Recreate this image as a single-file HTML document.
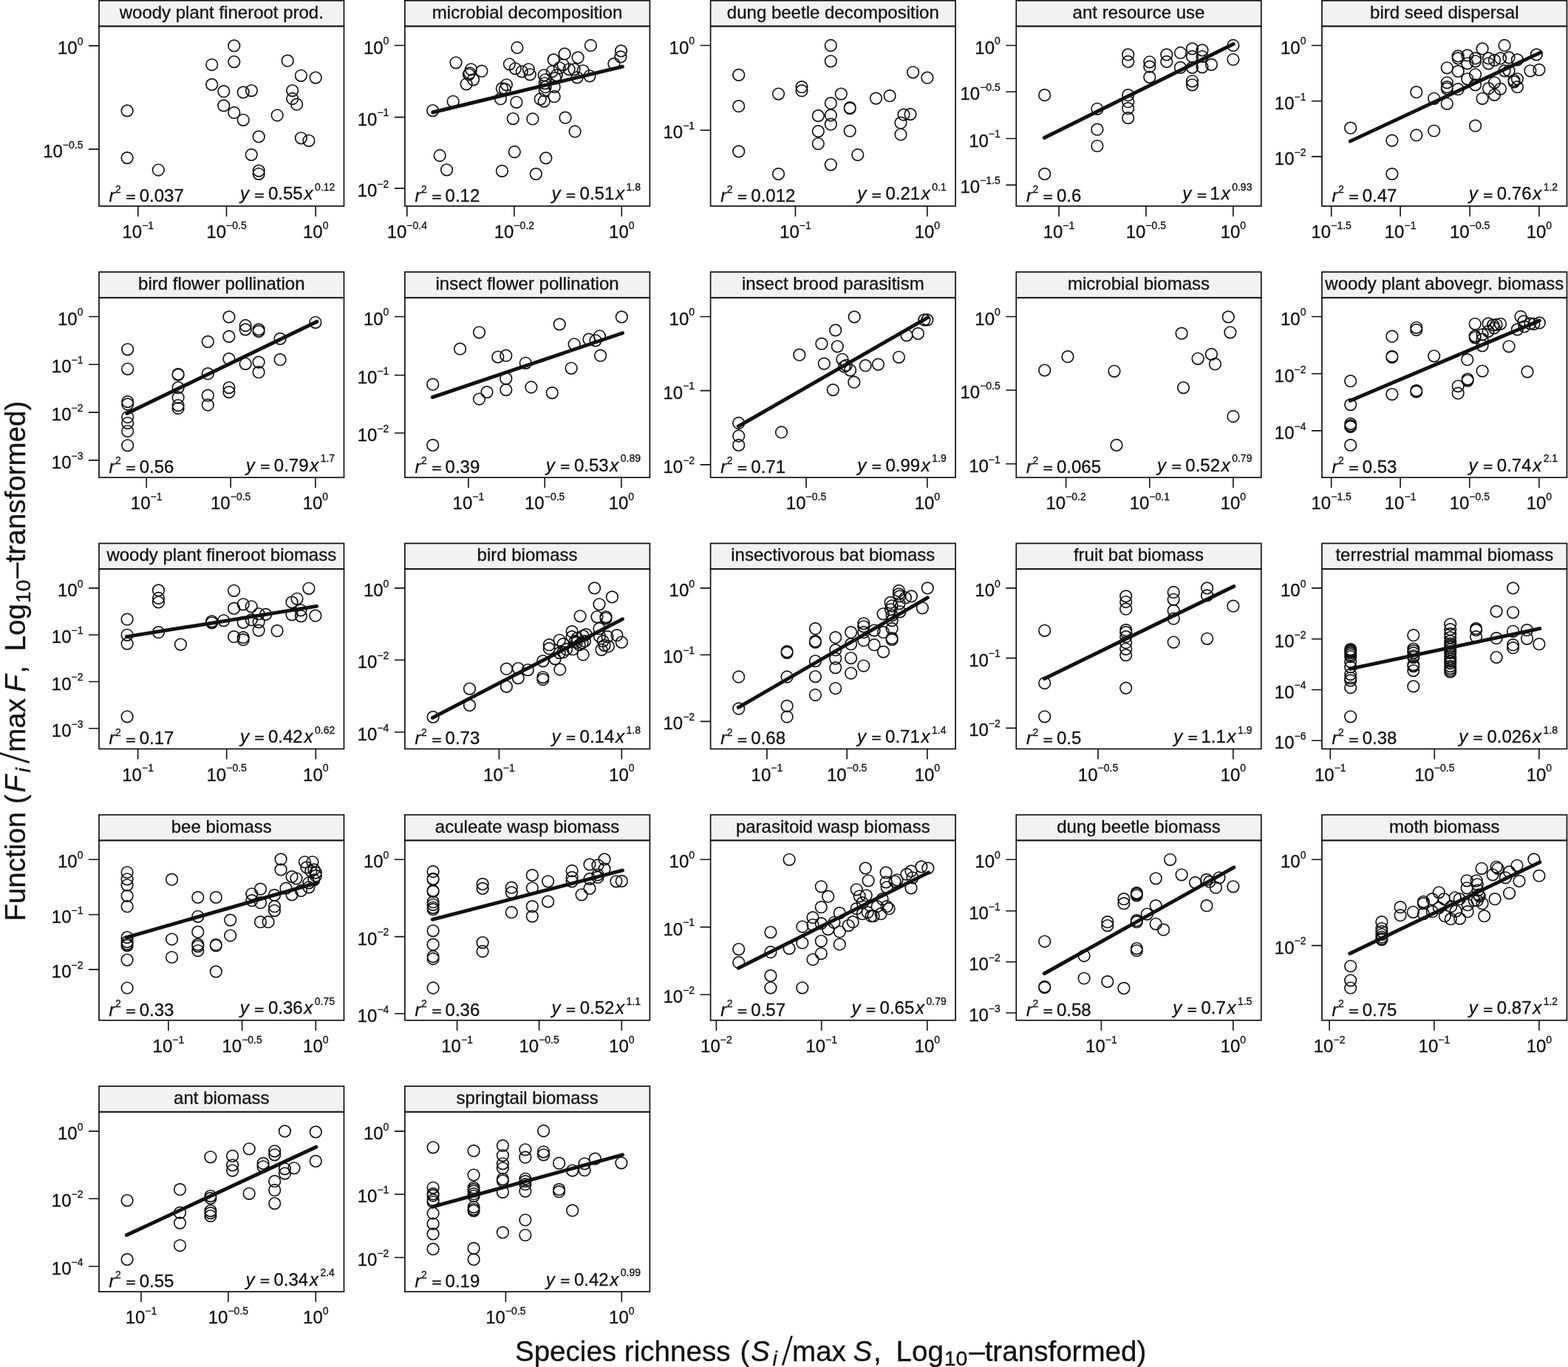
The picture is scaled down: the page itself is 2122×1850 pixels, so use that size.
<!DOCTYPE html><html><head><meta charset="utf-8"><title>Species richness vs function</title>
<style>html,body{margin:0;padding:0;background:#fff;width:2122px;height:1850px;overflow:hidden}svg{display:block}text{font-family:"Liberation Sans",Arial,Helvetica,sans-serif;fill:#111;stroke:#111;stroke-width:0.3px}</style></head><body>
<svg width="2122" height="1850" viewBox="0 0 2122 1850">
<rect width="2122" height="1850" fill="#fff"/>
<g>
<rect x="134" y="0.8" width="331.5" height="34.7" fill="#f2f2f2" stroke="#111" stroke-width="1.7"/>
<text x="299.8" y="24.7" font-size="24" text-anchor="middle">woody plant fineroot prod.</text>
<rect x="134" y="35.5" width="331.5" height="243.4" fill="none" stroke="#111" stroke-width="1.7"/>
<text x="112.5" y="72.9" font-size="24" text-anchor="end">10<tspan font-size="14" dy="-12.2">0</tspan></text>
<text x="112.5" y="212.9" font-size="24" text-anchor="end">10<tspan font-size="14" dy="-12.2">−0.5</tspan></text>
<text x="186.8" y="321.9" font-size="24" text-anchor="middle">10<tspan font-size="14" dy="-12.2">−1</tspan></text>
<text x="306.5" y="321.9" font-size="24" text-anchor="middle">10<tspan font-size="14" dy="-12.2">−0.5</tspan></text>
<text x="427.2" y="321.9" font-size="24" text-anchor="middle">10<tspan font-size="14" dy="-12.2">0</tspan></text>
<path d="M120 61.9H134M120 201.9H134M186.8 278.9V292.9M306.5 278.9V292.9M427.2 278.9V292.9" stroke="#111" stroke-width="1.6" fill="none"/>
<path d="M316.8 61.9m-7.8 0a7.8 7.8 0 1 0 15.6 0a7.8 7.8 0 1 0 -15.6 0M316.8 83.6m-7.8 0a7.8 7.8 0 1 0 15.6 0a7.8 7.8 0 1 0 -15.6 0M286.7 87.5m-7.8 0a7.8 7.8 0 1 0 15.6 0a7.8 7.8 0 1 0 -15.6 0M389.2 82.2m-7.8 0a7.8 7.8 0 1 0 15.6 0a7.8 7.8 0 1 0 -15.6 0M407.4 102.3m-7.8 0a7.8 7.8 0 1 0 15.6 0a7.8 7.8 0 1 0 -15.6 0M427.2 105.1m-7.8 0a7.8 7.8 0 1 0 15.6 0a7.8 7.8 0 1 0 -15.6 0M286.7 114.4m-7.8 0a7.8 7.8 0 1 0 15.6 0a7.8 7.8 0 1 0 -15.6 0M302.8 123.7m-7.8 0a7.8 7.8 0 1 0 15.6 0a7.8 7.8 0 1 0 -15.6 0M329.2 124.9m-7.8 0a7.8 7.8 0 1 0 15.6 0a7.8 7.8 0 1 0 -15.6 0M340.4 122.6m-7.8 0a7.8 7.8 0 1 0 15.6 0a7.8 7.8 0 1 0 -15.6 0M395.7 122.6m-7.8 0a7.8 7.8 0 1 0 15.6 0a7.8 7.8 0 1 0 -15.6 0M395.7 133.5m-7.8 0a7.8 7.8 0 1 0 15.6 0a7.8 7.8 0 1 0 -15.6 0M401.6 141.2m-7.8 0a7.8 7.8 0 1 0 15.6 0a7.8 7.8 0 1 0 -15.6 0M302.8 142.9m-7.8 0a7.8 7.8 0 1 0 15.6 0a7.8 7.8 0 1 0 -15.6 0M316.8 152.5m-7.8 0a7.8 7.8 0 1 0 15.6 0a7.8 7.8 0 1 0 -15.6 0M329.2 162.3m-7.8 0a7.8 7.8 0 1 0 15.6 0a7.8 7.8 0 1 0 -15.6 0M375.2 156m-7.8 0a7.8 7.8 0 1 0 15.6 0a7.8 7.8 0 1 0 -15.6 0M172.1 149.9m-7.8 0a7.8 7.8 0 1 0 15.6 0a7.8 7.8 0 1 0 -15.6 0M350.2 184.9m-7.8 0a7.8 7.8 0 1 0 15.6 0a7.8 7.8 0 1 0 -15.6 0M407.4 186.8m-7.8 0a7.8 7.8 0 1 0 15.6 0a7.8 7.8 0 1 0 -15.6 0M417.9 190.3m-7.8 0a7.8 7.8 0 1 0 15.6 0a7.8 7.8 0 1 0 -15.6 0M172.1 213.6m-7.8 0a7.8 7.8 0 1 0 15.6 0a7.8 7.8 0 1 0 -15.6 0M214.3 230m-7.8 0a7.8 7.8 0 1 0 15.6 0a7.8 7.8 0 1 0 -15.6 0M340.2 209.4m-7.8 0a7.8 7.8 0 1 0 15.6 0a7.8 7.8 0 1 0 -15.6 0M350.2 231.1m-7.8 0a7.8 7.8 0 1 0 15.6 0a7.8 7.8 0 1 0 -15.6 0M350.2 235.3m-7.8 0a7.8 7.8 0 1 0 15.6 0a7.8 7.8 0 1 0 -15.6 0" stroke="#111" stroke-width="1.65" fill="none"/>
<text x="147.6" y="272.8" font-size="24" font-style="italic">r</text>
<text x="156.1" y="260.9" font-size="14">2</text>
<g transform="translate(177 266.6) scale(0.93 0.7) translate(-7 7.9)"><text x="0" y="0" font-size="24" style="stroke:#111;stroke-width:0.8">=</text></g>
<text x="188.7" y="272.8" font-size="24">0.037</text>
<text x="324.9" y="270.3" font-size="24" font-style="italic">y</text>
<g transform="translate(350.9 264.1) scale(0.93 0.7) translate(-7 7.9)"><text x="0" y="0" font-size="24" style="stroke:#111;stroke-width:0.8">=</text></g>
<text x="363" y="270.3" font-size="24">0.55</text>
<text x="411.5" y="270.3" font-size="24" font-style="italic">x</text>
<text x="426" y="258.1" font-size="14">0.12</text>
</g>
<g>
<rect x="547.9" y="0.8" width="331.5" height="34.7" fill="#f2f2f2" stroke="#111" stroke-width="1.7"/>
<text x="713.6" y="24.7" font-size="24" text-anchor="middle">microbial decomposition</text>
<rect x="547.9" y="35.5" width="331.5" height="243.4" fill="none" stroke="#111" stroke-width="1.7"/>
<text x="526.4" y="72.5" font-size="24" text-anchor="end">10<tspan font-size="14" dy="-12.2">0</tspan></text>
<text x="526.4" y="169.6" font-size="24" text-anchor="end">10<tspan font-size="14" dy="-12.2">−1</tspan></text>
<text x="526.4" y="265.9" font-size="24" text-anchor="end">10<tspan font-size="14" dy="-12.2">−2</tspan></text>
<text x="550.8" y="321.9" font-size="24" text-anchor="middle">10<tspan font-size="14" dy="-12.2">−0.4</tspan></text>
<text x="695.9" y="321.9" font-size="24" text-anchor="middle">10<tspan font-size="14" dy="-12.2">−0.2</tspan></text>
<text x="841.3" y="321.9" font-size="24" text-anchor="middle">10<tspan font-size="14" dy="-12.2">0</tspan></text>
<path d="M533.9 61.5H547.9M533.9 158.6H547.9M533.9 254.9H547.9M550.8 278.9V292.9M695.9 278.9V292.9M841.3 278.9V292.9" stroke="#111" stroke-width="1.6" fill="none"/>
<path d="M585.7 149.6m-7.8 0a7.8 7.8 0 1 0 15.6 0a7.8 7.8 0 1 0 -15.6 0M613.2 137.3m-7.8 0a7.8 7.8 0 1 0 15.6 0a7.8 7.8 0 1 0 -15.6 0M617 84.8m-7.8 0a7.8 7.8 0 1 0 15.6 0a7.8 7.8 0 1 0 -15.6 0M637.5 93.8m-7.8 0a7.8 7.8 0 1 0 15.6 0a7.8 7.8 0 1 0 -15.6 0M635.5 98.8m-7.8 0a7.8 7.8 0 1 0 15.6 0a7.8 7.8 0 1 0 -15.6 0M634.5 100.8m-7.8 0a7.8 7.8 0 1 0 15.6 0a7.8 7.8 0 1 0 -15.6 0M640.5 107.8m-7.8 0a7.8 7.8 0 1 0 15.6 0a7.8 7.8 0 1 0 -15.6 0M631.1 113.8m-7.8 0a7.8 7.8 0 1 0 15.6 0a7.8 7.8 0 1 0 -15.6 0M651.9 96.2m-7.8 0a7.8 7.8 0 1 0 15.6 0a7.8 7.8 0 1 0 -15.6 0M699.9 64.5m-7.8 0a7.8 7.8 0 1 0 15.6 0a7.8 7.8 0 1 0 -15.6 0M689.4 86.8m-7.8 0a7.8 7.8 0 1 0 15.6 0a7.8 7.8 0 1 0 -15.6 0M697.3 92.8m-7.8 0a7.8 7.8 0 1 0 15.6 0a7.8 7.8 0 1 0 -15.6 0M706.3 96.8m-7.8 0a7.8 7.8 0 1 0 15.6 0a7.8 7.8 0 1 0 -15.6 0M715.3 93.8m-7.8 0a7.8 7.8 0 1 0 15.6 0a7.8 7.8 0 1 0 -15.6 0M717.3 100.8m-7.8 0a7.8 7.8 0 1 0 15.6 0a7.8 7.8 0 1 0 -15.6 0M685.4 114.8m-7.8 0a7.8 7.8 0 1 0 15.6 0a7.8 7.8 0 1 0 -15.6 0M679.4 119.7m-7.8 0a7.8 7.8 0 1 0 15.6 0a7.8 7.8 0 1 0 -15.6 0M683.4 120.7m-7.8 0a7.8 7.8 0 1 0 15.6 0a7.8 7.8 0 1 0 -15.6 0M677.4 133.7m-7.8 0a7.8 7.8 0 1 0 15.6 0a7.8 7.8 0 1 0 -15.6 0M698.9 138.3m-7.8 0a7.8 7.8 0 1 0 15.6 0a7.8 7.8 0 1 0 -15.6 0M694.3 160.6m-7.8 0a7.8 7.8 0 1 0 15.6 0a7.8 7.8 0 1 0 -15.6 0M720.9 161m-7.8 0a7.8 7.8 0 1 0 15.6 0a7.8 7.8 0 1 0 -15.6 0M736.2 101.8m-7.8 0a7.8 7.8 0 1 0 15.6 0a7.8 7.8 0 1 0 -15.6 0M738.2 107.8m-7.8 0a7.8 7.8 0 1 0 15.6 0a7.8 7.8 0 1 0 -15.6 0M737.2 112.8m-7.8 0a7.8 7.8 0 1 0 15.6 0a7.8 7.8 0 1 0 -15.6 0M738.2 117.7m-7.8 0a7.8 7.8 0 1 0 15.6 0a7.8 7.8 0 1 0 -15.6 0M737.2 122.7m-7.8 0a7.8 7.8 0 1 0 15.6 0a7.8 7.8 0 1 0 -15.6 0M731.2 134.1m-7.8 0a7.8 7.8 0 1 0 15.6 0a7.8 7.8 0 1 0 -15.6 0M736.2 137.1m-7.8 0a7.8 7.8 0 1 0 15.6 0a7.8 7.8 0 1 0 -15.6 0M749.2 80.9m-7.8 0a7.8 7.8 0 1 0 15.6 0a7.8 7.8 0 1 0 -15.6 0M747.2 96.8m-7.8 0a7.8 7.8 0 1 0 15.6 0a7.8 7.8 0 1 0 -15.6 0M751.2 105.8m-7.8 0a7.8 7.8 0 1 0 15.6 0a7.8 7.8 0 1 0 -15.6 0M750.2 117.7m-7.8 0a7.8 7.8 0 1 0 15.6 0a7.8 7.8 0 1 0 -15.6 0M750.2 130.7m-7.8 0a7.8 7.8 0 1 0 15.6 0a7.8 7.8 0 1 0 -15.6 0M764.1 72.9m-7.8 0a7.8 7.8 0 1 0 15.6 0a7.8 7.8 0 1 0 -15.6 0M762.1 87.8m-7.8 0a7.8 7.8 0 1 0 15.6 0a7.8 7.8 0 1 0 -15.6 0M757.2 91.8m-7.8 0a7.8 7.8 0 1 0 15.6 0a7.8 7.8 0 1 0 -15.6 0M753.2 101.8m-7.8 0a7.8 7.8 0 1 0 15.6 0a7.8 7.8 0 1 0 -15.6 0M770.1 93.8m-7.8 0a7.8 7.8 0 1 0 15.6 0a7.8 7.8 0 1 0 -15.6 0M777.1 93.8m-7.8 0a7.8 7.8 0 1 0 15.6 0a7.8 7.8 0 1 0 -15.6 0M782.1 77.9m-7.8 0a7.8 7.8 0 1 0 15.6 0a7.8 7.8 0 1 0 -15.6 0M781.1 104.8m-7.8 0a7.8 7.8 0 1 0 15.6 0a7.8 7.8 0 1 0 -15.6 0M789.1 95.8m-7.8 0a7.8 7.8 0 1 0 15.6 0a7.8 7.8 0 1 0 -15.6 0M798 102.8m-7.8 0a7.8 7.8 0 1 0 15.6 0a7.8 7.8 0 1 0 -15.6 0M799.4 61.5m-7.8 0a7.8 7.8 0 1 0 15.6 0a7.8 7.8 0 1 0 -15.6 0M765.1 159.2m-7.8 0a7.8 7.8 0 1 0 15.6 0a7.8 7.8 0 1 0 -15.6 0M778.1 178m-7.8 0a7.8 7.8 0 1 0 15.6 0a7.8 7.8 0 1 0 -15.6 0M830.9 86.4m-7.8 0a7.8 7.8 0 1 0 15.6 0a7.8 7.8 0 1 0 -15.6 0M840.5 68.9m-7.8 0a7.8 7.8 0 1 0 15.6 0a7.8 7.8 0 1 0 -15.6 0M839.9 76.9m-7.8 0a7.8 7.8 0 1 0 15.6 0a7.8 7.8 0 1 0 -15.6 0M595.2 210.5m-7.8 0a7.8 7.8 0 1 0 15.6 0a7.8 7.8 0 1 0 -15.6 0M604.6 229.8m-7.8 0a7.8 7.8 0 1 0 15.6 0a7.8 7.8 0 1 0 -15.6 0M679.4 231.4m-7.8 0a7.8 7.8 0 1 0 15.6 0a7.8 7.8 0 1 0 -15.6 0M696.3 205.5m-7.8 0a7.8 7.8 0 1 0 15.6 0a7.8 7.8 0 1 0 -15.6 0M725.3 235.4m-7.8 0a7.8 7.8 0 1 0 15.6 0a7.8 7.8 0 1 0 -15.6 0M738.8 213.9m-7.8 0a7.8 7.8 0 1 0 15.6 0a7.8 7.8 0 1 0 -15.6 0" stroke="#111" stroke-width="1.65" fill="none"/>
<line x1="585.7" y1="152" x2="842.5" y2="90.2" stroke="#111" stroke-width="4.9" stroke-linecap="round"/>
<text x="561.5" y="272.8" font-size="24" font-style="italic">r</text>
<text x="570" y="260.9" font-size="14">2</text>
<g transform="translate(590.9 266.6) scale(0.93 0.7) translate(-7 7.9)"><text x="0" y="0" font-size="24" style="stroke:#111;stroke-width:0.8">=</text></g>
<text x="602.6" y="272.8" font-size="24">0.12</text>
<text x="746.5" y="270.3" font-size="24" font-style="italic">y</text>
<g transform="translate(772.5 264.1) scale(0.93 0.7) translate(-7 7.9)"><text x="0" y="0" font-size="24" style="stroke:#111;stroke-width:0.8">=</text></g>
<text x="784.6" y="270.3" font-size="24">0.51</text>
<text x="833" y="270.3" font-size="24" font-style="italic">x</text>
<text x="847.5" y="258.1" font-size="14">1.8</text>
</g>
<g>
<rect x="961.6" y="0.8" width="331.5" height="34.7" fill="#f2f2f2" stroke="#111" stroke-width="1.7"/>
<text x="1127.3" y="24.7" font-size="24" text-anchor="middle">dung beetle decomposition</text>
<rect x="961.6" y="35.5" width="331.5" height="243.4" fill="none" stroke="#111" stroke-width="1.7"/>
<text x="940.1" y="72.5" font-size="24" text-anchor="end">10<tspan font-size="14" dy="-12.2">0</tspan></text>
<text x="940.1" y="187.2" font-size="24" text-anchor="end">10<tspan font-size="14" dy="-12.2">−1</tspan></text>
<text x="1076.4" y="321.9" font-size="24" text-anchor="middle">10<tspan font-size="14" dy="-12.2">−1</tspan></text>
<text x="1254.9" y="321.9" font-size="24" text-anchor="middle">10<tspan font-size="14" dy="-12.2">0</tspan></text>
<path d="M947.6 61.5H961.6M947.6 176.2H961.6M1076.4 278.9V292.9M1254.9 278.9V292.9" stroke="#111" stroke-width="1.6" fill="none"/>
<path d="M999.7 101.4m-7.8 0a7.8 7.8 0 1 0 15.6 0a7.8 7.8 0 1 0 -15.6 0M999.7 143.7m-7.8 0a7.8 7.8 0 1 0 15.6 0a7.8 7.8 0 1 0 -15.6 0M999.7 204.9m-7.8 0a7.8 7.8 0 1 0 15.6 0a7.8 7.8 0 1 0 -15.6 0M1053.5 127.1m-7.8 0a7.8 7.8 0 1 0 15.6 0a7.8 7.8 0 1 0 -15.6 0M1053.5 235.4m-7.8 0a7.8 7.8 0 1 0 15.6 0a7.8 7.8 0 1 0 -15.6 0M1085 117.7m-7.8 0a7.8 7.8 0 1 0 15.6 0a7.8 7.8 0 1 0 -15.6 0M1085 122.7m-7.8 0a7.8 7.8 0 1 0 15.6 0a7.8 7.8 0 1 0 -15.6 0M1124.3 61.5m-7.8 0a7.8 7.8 0 1 0 15.6 0a7.8 7.8 0 1 0 -15.6 0M1124.3 82.8m-7.8 0a7.8 7.8 0 1 0 15.6 0a7.8 7.8 0 1 0 -15.6 0M1124.3 139.7m-7.8 0a7.8 7.8 0 1 0 15.6 0a7.8 7.8 0 1 0 -15.6 0M1124.3 156m-7.8 0a7.8 7.8 0 1 0 15.6 0a7.8 7.8 0 1 0 -15.6 0M1124.3 168.2m-7.8 0a7.8 7.8 0 1 0 15.6 0a7.8 7.8 0 1 0 -15.6 0M1124.3 222.8m-7.8 0a7.8 7.8 0 1 0 15.6 0a7.8 7.8 0 1 0 -15.6 0M1107.3 156.6m-7.8 0a7.8 7.8 0 1 0 15.6 0a7.8 7.8 0 1 0 -15.6 0M1107.3 177.6m-7.8 0a7.8 7.8 0 1 0 15.6 0a7.8 7.8 0 1 0 -15.6 0M1107.3 194.5m-7.8 0a7.8 7.8 0 1 0 15.6 0a7.8 7.8 0 1 0 -15.6 0M1138.3 127.1m-7.8 0a7.8 7.8 0 1 0 15.6 0a7.8 7.8 0 1 0 -15.6 0M1150.2 145.7m-7.8 0a7.8 7.8 0 1 0 15.6 0a7.8 7.8 0 1 0 -15.6 0M1150.2 146.7m-7.8 0a7.8 7.8 0 1 0 15.6 0a7.8 7.8 0 1 0 -15.6 0M1150.2 177.2m-7.8 0a7.8 7.8 0 1 0 15.6 0a7.8 7.8 0 1 0 -15.6 0M1160.8 209.5m-7.8 0a7.8 7.8 0 1 0 15.6 0a7.8 7.8 0 1 0 -15.6 0M1185.5 133.1m-7.8 0a7.8 7.8 0 1 0 15.6 0a7.8 7.8 0 1 0 -15.6 0M1204.1 129.7m-7.8 0a7.8 7.8 0 1 0 15.6 0a7.8 7.8 0 1 0 -15.6 0M1235.6 97.8m-7.8 0a7.8 7.8 0 1 0 15.6 0a7.8 7.8 0 1 0 -15.6 0M1254.9 105.2m-7.8 0a7.8 7.8 0 1 0 15.6 0a7.8 7.8 0 1 0 -15.6 0M1223 155.2m-7.8 0a7.8 7.8 0 1 0 15.6 0a7.8 7.8 0 1 0 -15.6 0M1232 154.6m-7.8 0a7.8 7.8 0 1 0 15.6 0a7.8 7.8 0 1 0 -15.6 0M1219 166.2m-7.8 0a7.8 7.8 0 1 0 15.6 0a7.8 7.8 0 1 0 -15.6 0M1219 182m-7.8 0a7.8 7.8 0 1 0 15.6 0a7.8 7.8 0 1 0 -15.6 0" stroke="#111" stroke-width="1.65" fill="none"/>
<text x="975.2" y="272.8" font-size="24" font-style="italic">r</text>
<text x="983.7" y="260.9" font-size="14">2</text>
<g transform="translate(1004.6 266.6) scale(0.93 0.7) translate(-7 7.9)"><text x="0" y="0" font-size="24" style="stroke:#111;stroke-width:0.8">=</text></g>
<text x="1016.3" y="272.8" font-size="24">0.012</text>
<text x="1160.2" y="270.3" font-size="24" font-style="italic">y</text>
<g transform="translate(1186.3 264.1) scale(0.93 0.7) translate(-7 7.9)"><text x="0" y="0" font-size="24" style="stroke:#111;stroke-width:0.8">=</text></g>
<text x="1198.4" y="270.3" font-size="24">0.21</text>
<text x="1246.8" y="270.3" font-size="24" font-style="italic">x</text>
<text x="1261.3" y="258.1" font-size="14">0.1</text>
</g>
<g>
<rect x="1375.3" y="0.8" width="331.5" height="34.7" fill="#f2f2f2" stroke="#111" stroke-width="1.7"/>
<text x="1541" y="24.7" font-size="24" text-anchor="middle">ant resource use</text>
<rect x="1375.3" y="35.5" width="331.5" height="243.4" fill="none" stroke="#111" stroke-width="1.7"/>
<text x="1353.8" y="72.5" font-size="24" text-anchor="end">10<tspan font-size="14" dy="-12.2">0</tspan></text>
<text x="1353.8" y="135.3" font-size="24" text-anchor="end">10<tspan font-size="14" dy="-12.2">−0.5</tspan></text>
<text x="1353.8" y="198.5" font-size="24" text-anchor="end">10<tspan font-size="14" dy="-12.2">−1</tspan></text>
<text x="1353.8" y="261.4" font-size="24" text-anchor="end">10<tspan font-size="14" dy="-12.2">−1.5</tspan></text>
<text x="1433" y="321.9" font-size="24" text-anchor="middle">10<tspan font-size="14" dy="-12.2">−1</tspan></text>
<text x="1550.9" y="321.9" font-size="24" text-anchor="middle">10<tspan font-size="14" dy="-12.2">−0.5</tspan></text>
<text x="1668.9" y="321.9" font-size="24" text-anchor="middle">10<tspan font-size="14" dy="-12.2">0</tspan></text>
<path d="M1361.3 61.5H1375.3M1361.3 124.3H1375.3M1361.3 187.5H1375.3M1361.3 250.4H1375.3M1433 278.9V292.9M1550.9 278.9V292.9M1668.9 278.9V292.9" stroke="#111" stroke-width="1.6" fill="none"/>
<path d="M1413.7 128.7m-7.8 0a7.8 7.8 0 1 0 15.6 0a7.8 7.8 0 1 0 -15.6 0M1413.7 235.4m-7.8 0a7.8 7.8 0 1 0 15.6 0a7.8 7.8 0 1 0 -15.6 0M1484.9 147.3m-7.8 0a7.8 7.8 0 1 0 15.6 0a7.8 7.8 0 1 0 -15.6 0M1484.9 175.2m-7.8 0a7.8 7.8 0 1 0 15.6 0a7.8 7.8 0 1 0 -15.6 0M1484.9 197.5m-7.8 0a7.8 7.8 0 1 0 15.6 0a7.8 7.8 0 1 0 -15.6 0M1526.7 73.9m-7.8 0a7.8 7.8 0 1 0 15.6 0a7.8 7.8 0 1 0 -15.6 0M1526.7 83.4m-7.8 0a7.8 7.8 0 1 0 15.6 0a7.8 7.8 0 1 0 -15.6 0M1526.7 128.7m-7.8 0a7.8 7.8 0 1 0 15.6 0a7.8 7.8 0 1 0 -15.6 0M1526.7 137.7m-7.8 0a7.8 7.8 0 1 0 15.6 0a7.8 7.8 0 1 0 -15.6 0M1526.7 146.7m-7.8 0a7.8 7.8 0 1 0 15.6 0a7.8 7.8 0 1 0 -15.6 0M1526.7 159.6m-7.8 0a7.8 7.8 0 1 0 15.6 0a7.8 7.8 0 1 0 -15.6 0M1555.8 83.8m-7.8 0a7.8 7.8 0 1 0 15.6 0a7.8 7.8 0 1 0 -15.6 0M1555.8 90.2m-7.8 0a7.8 7.8 0 1 0 15.6 0a7.8 7.8 0 1 0 -15.6 0M1555.8 104.4m-7.8 0a7.8 7.8 0 1 0 15.6 0a7.8 7.8 0 1 0 -15.6 0M1578.8 73.9m-7.8 0a7.8 7.8 0 1 0 15.6 0a7.8 7.8 0 1 0 -15.6 0M1578.8 83.4m-7.8 0a7.8 7.8 0 1 0 15.6 0a7.8 7.8 0 1 0 -15.6 0M1597.5 71.5m-7.8 0a7.8 7.8 0 1 0 15.6 0a7.8 7.8 0 1 0 -15.6 0M1597.5 91.4m-7.8 0a7.8 7.8 0 1 0 15.6 0a7.8 7.8 0 1 0 -15.6 0M1613.5 65.9m-7.8 0a7.8 7.8 0 1 0 15.6 0a7.8 7.8 0 1 0 -15.6 0M1613.5 76.5m-7.8 0a7.8 7.8 0 1 0 15.6 0a7.8 7.8 0 1 0 -15.6 0M1613.5 91.4m-7.8 0a7.8 7.8 0 1 0 15.6 0a7.8 7.8 0 1 0 -15.6 0M1613.5 109.8m-7.8 0a7.8 7.8 0 1 0 15.6 0a7.8 7.8 0 1 0 -15.6 0M1613.5 114.8m-7.8 0a7.8 7.8 0 1 0 15.6 0a7.8 7.8 0 1 0 -15.6 0M1627 67.9m-7.8 0a7.8 7.8 0 1 0 15.6 0a7.8 7.8 0 1 0 -15.6 0M1627 76.5m-7.8 0a7.8 7.8 0 1 0 15.6 0a7.8 7.8 0 1 0 -15.6 0M1627 90.8m-7.8 0a7.8 7.8 0 1 0 15.6 0a7.8 7.8 0 1 0 -15.6 0M1639.4 87.4m-7.8 0a7.8 7.8 0 1 0 15.6 0a7.8 7.8 0 1 0 -15.6 0M1668.9 61.5m-7.8 0a7.8 7.8 0 1 0 15.6 0a7.8 7.8 0 1 0 -15.6 0M1668.9 80.5m-7.8 0a7.8 7.8 0 1 0 15.6 0a7.8 7.8 0 1 0 -15.6 0" stroke="#111" stroke-width="1.65" fill="none"/>
<line x1="1413.3" y1="186.5" x2="1669.3" y2="59.5" stroke="#111" stroke-width="4.9" stroke-linecap="round"/>
<text x="1388.9" y="272.8" font-size="24" font-style="italic">r</text>
<text x="1397.4" y="260.9" font-size="14">2</text>
<g transform="translate(1418.3 266.6) scale(0.93 0.7) translate(-7 7.9)"><text x="0" y="0" font-size="24" style="stroke:#111;stroke-width:0.8">=</text></g>
<text x="1430" y="272.8" font-size="24">0.6</text>
<text x="1600.3" y="270.3" font-size="24" font-style="italic">y</text>
<g transform="translate(1626.4 264.1) scale(0.93 0.7) translate(-7 7.9)"><text x="0" y="0" font-size="24" style="stroke:#111;stroke-width:0.8">=</text></g>
<text x="1637.6" y="270.3" font-size="24">1</text>
<text x="1652.7" y="270.3" font-size="24" font-style="italic">x</text>
<text x="1667.2" y="258.1" font-size="14">0.93</text>
</g>
<g>
<rect x="1789" y="0.8" width="331.5" height="34.7" fill="#f2f2f2" stroke="#111" stroke-width="1.7"/>
<text x="1954.8" y="24.7" font-size="24" text-anchor="middle">bird seed dispersal</text>
<rect x="1789" y="35.5" width="331.5" height="243.4" fill="none" stroke="#111" stroke-width="1.7"/>
<text x="1767.5" y="72.5" font-size="24" text-anchor="end">10<tspan font-size="14" dy="-12.2">0</tspan></text>
<text x="1767.5" y="147.7" font-size="24" text-anchor="end">10<tspan font-size="14" dy="-12.2">−1</tspan></text>
<text x="1767.5" y="222.9" font-size="24" text-anchor="end">10<tspan font-size="14" dy="-12.2">−2</tspan></text>
<text x="1801.7" y="321.9" font-size="24" text-anchor="middle">10<tspan font-size="14" dy="-12.2">−1.5</tspan></text>
<text x="1895.1" y="321.9" font-size="24" text-anchor="middle">10<tspan font-size="14" dy="-12.2">−1</tspan></text>
<text x="1989.2" y="321.9" font-size="24" text-anchor="middle">10<tspan font-size="14" dy="-12.2">−0.5</tspan></text>
<text x="2082.9" y="321.9" font-size="24" text-anchor="middle">10<tspan font-size="14" dy="-12.2">0</tspan></text>
<path d="M1775 61.5H1789M1775 136.7H1789M1775 211.9H1789M1801.7 278.9V292.9M1895.1 278.9V292.9M1989.2 278.9V292.9M2082.9 278.9V292.9" stroke="#111" stroke-width="1.6" fill="none"/>
<path d="M1827.7 173.2m-7.8 0a7.8 7.8 0 1 0 15.6 0a7.8 7.8 0 1 0 -15.6 0M1883.9 190.1m-7.8 0a7.8 7.8 0 1 0 15.6 0a7.8 7.8 0 1 0 -15.6 0M1883.9 235.4m-7.8 0a7.8 7.8 0 1 0 15.6 0a7.8 7.8 0 1 0 -15.6 0M1916.8 124.7m-7.8 0a7.8 7.8 0 1 0 15.6 0a7.8 7.8 0 1 0 -15.6 0M1916.8 183m-7.8 0a7.8 7.8 0 1 0 15.6 0a7.8 7.8 0 1 0 -15.6 0M1940.7 133.3m-7.8 0a7.8 7.8 0 1 0 15.6 0a7.8 7.8 0 1 0 -15.6 0M1940.7 177m-7.8 0a7.8 7.8 0 1 0 15.6 0a7.8 7.8 0 1 0 -15.6 0M1958.3 91.8m-7.8 0a7.8 7.8 0 1 0 15.6 0a7.8 7.8 0 1 0 -15.6 0M1958.3 111.8m-7.8 0a7.8 7.8 0 1 0 15.6 0a7.8 7.8 0 1 0 -15.6 0M1958.3 117.7m-7.8 0a7.8 7.8 0 1 0 15.6 0a7.8 7.8 0 1 0 -15.6 0M1958.3 120.1m-7.8 0a7.8 7.8 0 1 0 15.6 0a7.8 7.8 0 1 0 -15.6 0M1958.3 140.3m-7.8 0a7.8 7.8 0 1 0 15.6 0a7.8 7.8 0 1 0 -15.6 0M1973.2 75.9m-7.8 0a7.8 7.8 0 1 0 15.6 0a7.8 7.8 0 1 0 -15.6 0M1973.2 78.9m-7.8 0a7.8 7.8 0 1 0 15.6 0a7.8 7.8 0 1 0 -15.6 0M1973.2 96.4m-7.8 0a7.8 7.8 0 1 0 15.6 0a7.8 7.8 0 1 0 -15.6 0M1973.2 120.7m-7.8 0a7.8 7.8 0 1 0 15.6 0a7.8 7.8 0 1 0 -15.6 0M1985.8 74.9m-7.8 0a7.8 7.8 0 1 0 15.6 0a7.8 7.8 0 1 0 -15.6 0M1985.8 85.8m-7.8 0a7.8 7.8 0 1 0 15.6 0a7.8 7.8 0 1 0 -15.6 0M1985.8 106.8m-7.8 0a7.8 7.8 0 1 0 15.6 0a7.8 7.8 0 1 0 -15.6 0M1996.6 78.9m-7.8 0a7.8 7.8 0 1 0 15.6 0a7.8 7.8 0 1 0 -15.6 0M1996.6 82.8m-7.8 0a7.8 7.8 0 1 0 15.6 0a7.8 7.8 0 1 0 -15.6 0M1996.6 100.8m-7.8 0a7.8 7.8 0 1 0 15.6 0a7.8 7.8 0 1 0 -15.6 0M1996.6 114.8m-7.8 0a7.8 7.8 0 1 0 15.6 0a7.8 7.8 0 1 0 -15.6 0M1996.6 170.2m-7.8 0a7.8 7.8 0 1 0 15.6 0a7.8 7.8 0 1 0 -15.6 0M2006.1 65.9m-7.8 0a7.8 7.8 0 1 0 15.6 0a7.8 7.8 0 1 0 -15.6 0M2006.1 133.3m-7.8 0a7.8 7.8 0 1 0 15.6 0a7.8 7.8 0 1 0 -15.6 0M2014.5 78.9m-7.8 0a7.8 7.8 0 1 0 15.6 0a7.8 7.8 0 1 0 -15.6 0M2014.5 85.8m-7.8 0a7.8 7.8 0 1 0 15.6 0a7.8 7.8 0 1 0 -15.6 0M2014.5 119.7m-7.8 0a7.8 7.8 0 1 0 15.6 0a7.8 7.8 0 1 0 -15.6 0M2022.5 81.4m-7.8 0a7.8 7.8 0 1 0 15.6 0a7.8 7.8 0 1 0 -15.6 0M2022.5 111.8m-7.8 0a7.8 7.8 0 1 0 15.6 0a7.8 7.8 0 1 0 -15.6 0M2022.5 128.3m-7.8 0a7.8 7.8 0 1 0 15.6 0a7.8 7.8 0 1 0 -15.6 0M2030.5 78.9m-7.8 0a7.8 7.8 0 1 0 15.6 0a7.8 7.8 0 1 0 -15.6 0M2030.5 120.3m-7.8 0a7.8 7.8 0 1 0 15.6 0a7.8 7.8 0 1 0 -15.6 0M2036.1 61.5m-7.8 0a7.8 7.8 0 1 0 15.6 0a7.8 7.8 0 1 0 -15.6 0M2036.1 95.8m-7.8 0a7.8 7.8 0 1 0 15.6 0a7.8 7.8 0 1 0 -15.6 0M2042 77.9m-7.8 0a7.8 7.8 0 1 0 15.6 0a7.8 7.8 0 1 0 -15.6 0M2042 95.8m-7.8 0a7.8 7.8 0 1 0 15.6 0a7.8 7.8 0 1 0 -15.6 0M2049 108.8m-7.8 0a7.8 7.8 0 1 0 15.6 0a7.8 7.8 0 1 0 -15.6 0M2049 110.8m-7.8 0a7.8 7.8 0 1 0 15.6 0a7.8 7.8 0 1 0 -15.6 0M2053.4 80.9m-7.8 0a7.8 7.8 0 1 0 15.6 0a7.8 7.8 0 1 0 -15.6 0M2053.4 106.8m-7.8 0a7.8 7.8 0 1 0 15.6 0a7.8 7.8 0 1 0 -15.6 0M2053.4 117.7m-7.8 0a7.8 7.8 0 1 0 15.6 0a7.8 7.8 0 1 0 -15.6 0M2070.9 95.8m-7.8 0a7.8 7.8 0 1 0 15.6 0a7.8 7.8 0 1 0 -15.6 0M2079.3 73.9m-7.8 0a7.8 7.8 0 1 0 15.6 0a7.8 7.8 0 1 0 -15.6 0M2082.9 94.4m-7.8 0a7.8 7.8 0 1 0 15.6 0a7.8 7.8 0 1 0 -15.6 0" stroke="#111" stroke-width="1.65" fill="none"/>
<line x1="1827.3" y1="191.1" x2="2085.3" y2="70.9" stroke="#111" stroke-width="4.9" stroke-linecap="round"/>
<text x="1802.6" y="272.8" font-size="24" font-style="italic">r</text>
<text x="1811.1" y="260.9" font-size="14">2</text>
<g transform="translate(1832 266.6) scale(0.93 0.7) translate(-7 7.9)"><text x="0" y="0" font-size="24" style="stroke:#111;stroke-width:0.8">=</text></g>
<text x="1843.7" y="272.8" font-size="24">0.47</text>
<text x="1987.7" y="270.3" font-size="24" font-style="italic">y</text>
<g transform="translate(2013.7 264.1) scale(0.93 0.7) translate(-7 7.9)"><text x="0" y="0" font-size="24" style="stroke:#111;stroke-width:0.8">=</text></g>
<text x="2025.8" y="270.3" font-size="24">0.76</text>
<text x="2074.2" y="270.3" font-size="24" font-style="italic">x</text>
<text x="2088.7" y="258.1" font-size="14">1.2</text>
</g>
<g>
<rect x="134" y="368.1" width="331.5" height="34.7" fill="#f2f2f2" stroke="#111" stroke-width="1.7"/>
<text x="299.8" y="392" font-size="24" text-anchor="middle">bird flower pollination</text>
<rect x="134" y="402.8" width="331.5" height="243.4" fill="none" stroke="#111" stroke-width="1.7"/>
<text x="112.5" y="439.5" font-size="24" text-anchor="end">10<tspan font-size="14" dy="-12.2">0</tspan></text>
<text x="112.5" y="504.3" font-size="24" text-anchor="end">10<tspan font-size="14" dy="-12.2">−1</tspan></text>
<text x="112.5" y="569.1" font-size="24" text-anchor="end">10<tspan font-size="14" dy="-12.2">−2</tspan></text>
<text x="112.5" y="633.9" font-size="24" text-anchor="end">10<tspan font-size="14" dy="-12.2">−3</tspan></text>
<text x="198.2" y="689.2" font-size="24" text-anchor="middle">10<tspan font-size="14" dy="-12.2">−1</tspan></text>
<text x="312.2" y="689.2" font-size="24" text-anchor="middle">10<tspan font-size="14" dy="-12.2">−0.5</tspan></text>
<text x="426.9" y="689.2" font-size="24" text-anchor="middle">10<tspan font-size="14" dy="-12.2">0</tspan></text>
<path d="M120 428.5H134M120 493.3H134M120 558.1H134M120 622.9H134M198.2 646.2V660.2M312.2 646.2V660.2M426.9 646.2V660.2" stroke="#111" stroke-width="1.6" fill="none"/>
<path d="M172.7 472.8m-7.8 0a7.8 7.8 0 1 0 15.6 0a7.8 7.8 0 1 0 -15.6 0M172.7 499.3m-7.8 0a7.8 7.8 0 1 0 15.6 0a7.8 7.8 0 1 0 -15.6 0M172.7 543.6m-7.8 0a7.8 7.8 0 1 0 15.6 0a7.8 7.8 0 1 0 -15.6 0M172.7 547m-7.8 0a7.8 7.8 0 1 0 15.6 0a7.8 7.8 0 1 0 -15.6 0M172.7 564.5m-7.8 0a7.8 7.8 0 1 0 15.6 0a7.8 7.8 0 1 0 -15.6 0M172.7 572.5m-7.8 0a7.8 7.8 0 1 0 15.6 0a7.8 7.8 0 1 0 -15.6 0M172.7 583.5m-7.8 0a7.8 7.8 0 1 0 15.6 0a7.8 7.8 0 1 0 -15.6 0M172.7 602.8m-7.8 0a7.8 7.8 0 1 0 15.6 0a7.8 7.8 0 1 0 -15.6 0M241.1 506.3m-7.8 0a7.8 7.8 0 1 0 15.6 0a7.8 7.8 0 1 0 -15.6 0M241.1 507.1m-7.8 0a7.8 7.8 0 1 0 15.6 0a7.8 7.8 0 1 0 -15.6 0M241.1 524.6m-7.8 0a7.8 7.8 0 1 0 15.6 0a7.8 7.8 0 1 0 -15.6 0M241.1 538m-7.8 0a7.8 7.8 0 1 0 15.6 0a7.8 7.8 0 1 0 -15.6 0M241.1 548.6m-7.8 0a7.8 7.8 0 1 0 15.6 0a7.8 7.8 0 1 0 -15.6 0M241.1 552.5m-7.8 0a7.8 7.8 0 1 0 15.6 0a7.8 7.8 0 1 0 -15.6 0M281.3 462.4m-7.8 0a7.8 7.8 0 1 0 15.6 0a7.8 7.8 0 1 0 -15.6 0M281.3 505.7m-7.8 0a7.8 7.8 0 1 0 15.6 0a7.8 7.8 0 1 0 -15.6 0M281.3 535.2m-7.8 0a7.8 7.8 0 1 0 15.6 0a7.8 7.8 0 1 0 -15.6 0M281.3 548m-7.8 0a7.8 7.8 0 1 0 15.6 0a7.8 7.8 0 1 0 -15.6 0M309.9 428.9m-7.8 0a7.8 7.8 0 1 0 15.6 0a7.8 7.8 0 1 0 -15.6 0M309.9 455.4m-7.8 0a7.8 7.8 0 1 0 15.6 0a7.8 7.8 0 1 0 -15.6 0M309.9 485.7m-7.8 0a7.8 7.8 0 1 0 15.6 0a7.8 7.8 0 1 0 -15.6 0M309.9 524.6m-7.8 0a7.8 7.8 0 1 0 15.6 0a7.8 7.8 0 1 0 -15.6 0M309.9 530.6m-7.8 0a7.8 7.8 0 1 0 15.6 0a7.8 7.8 0 1 0 -15.6 0M332.2 440.5m-7.8 0a7.8 7.8 0 1 0 15.6 0a7.8 7.8 0 1 0 -15.6 0M332.2 445.9m-7.8 0a7.8 7.8 0 1 0 15.6 0a7.8 7.8 0 1 0 -15.6 0M332.2 492.3m-7.8 0a7.8 7.8 0 1 0 15.6 0a7.8 7.8 0 1 0 -15.6 0M350.1 445.9m-7.8 0a7.8 7.8 0 1 0 15.6 0a7.8 7.8 0 1 0 -15.6 0M350.1 448.4m-7.8 0a7.8 7.8 0 1 0 15.6 0a7.8 7.8 0 1 0 -15.6 0M350.1 490.1m-7.8 0a7.8 7.8 0 1 0 15.6 0a7.8 7.8 0 1 0 -15.6 0M350.1 503.7m-7.8 0a7.8 7.8 0 1 0 15.6 0a7.8 7.8 0 1 0 -15.6 0M379.1 458.4m-7.8 0a7.8 7.8 0 1 0 15.6 0a7.8 7.8 0 1 0 -15.6 0M379.1 486.7m-7.8 0a7.8 7.8 0 1 0 15.6 0a7.8 7.8 0 1 0 -15.6 0M426.9 436.3m-7.8 0a7.8 7.8 0 1 0 15.6 0a7.8 7.8 0 1 0 -15.6 0" stroke="#111" stroke-width="1.65" fill="none"/>
<line x1="171.7" y1="559.5" x2="428.9" y2="435.3" stroke="#111" stroke-width="4.9" stroke-linecap="round"/>
<text x="147.6" y="640.1" font-size="24" font-style="italic">r</text>
<text x="156.1" y="628.2" font-size="14">2</text>
<g transform="translate(177 633.9) scale(0.93 0.7) translate(-7 7.9)"><text x="0" y="0" font-size="24" style="stroke:#111;stroke-width:0.8">=</text></g>
<text x="188.7" y="640.1" font-size="24">0.56</text>
<text x="332.7" y="637.6" font-size="24" font-style="italic">y</text>
<g transform="translate(358.7 631.4) scale(0.93 0.7) translate(-7 7.9)"><text x="0" y="0" font-size="24" style="stroke:#111;stroke-width:0.8">=</text></g>
<text x="370.8" y="637.6" font-size="24">0.79</text>
<text x="419.2" y="637.6" font-size="24" font-style="italic">x</text>
<text x="433.7" y="625.4" font-size="14">1.7</text>
</g>
<g>
<rect x="547.9" y="368.1" width="331.5" height="34.7" fill="#f2f2f2" stroke="#111" stroke-width="1.7"/>
<text x="713.6" y="392" font-size="24" text-anchor="middle">insect flower pollination</text>
<rect x="547.9" y="402.8" width="331.5" height="243.4" fill="none" stroke="#111" stroke-width="1.7"/>
<text x="526.4" y="439.5" font-size="24" text-anchor="end">10<tspan font-size="14" dy="-12.2">0</tspan></text>
<text x="526.4" y="518.7" font-size="24" text-anchor="end">10<tspan font-size="14" dy="-12.2">−1</tspan></text>
<text x="526.4" y="597" font-size="24" text-anchor="end">10<tspan font-size="14" dy="-12.2">−2</tspan></text>
<text x="633.9" y="689.2" font-size="24" text-anchor="middle">10<tspan font-size="14" dy="-12.2">−1</tspan></text>
<text x="737.2" y="689.2" font-size="24" text-anchor="middle">10<tspan font-size="14" dy="-12.2">−0.5</tspan></text>
<text x="840.9" y="689.2" font-size="24" text-anchor="middle">10<tspan font-size="14" dy="-12.2">0</tspan></text>
<path d="M533.9 428.5H547.9M533.9 507.7H547.9M533.9 586H547.9M633.9 646.2V660.2M737.2 646.2V660.2M840.9 646.2V660.2" stroke="#111" stroke-width="1.6" fill="none"/>
<path d="M585.7 520.2m-7.8 0a7.8 7.8 0 1 0 15.6 0a7.8 7.8 0 1 0 -15.6 0M585.7 602.4m-7.8 0a7.8 7.8 0 1 0 15.6 0a7.8 7.8 0 1 0 -15.6 0M622.6 472.2m-7.8 0a7.8 7.8 0 1 0 15.6 0a7.8 7.8 0 1 0 -15.6 0M648.5 449.8m-7.8 0a7.8 7.8 0 1 0 15.6 0a7.8 7.8 0 1 0 -15.6 0M648.5 540m-7.8 0a7.8 7.8 0 1 0 15.6 0a7.8 7.8 0 1 0 -15.6 0M659 530.6m-7.8 0a7.8 7.8 0 1 0 15.6 0a7.8 7.8 0 1 0 -15.6 0M673.8 483.1m-7.8 0a7.8 7.8 0 1 0 15.6 0a7.8 7.8 0 1 0 -15.6 0M684.8 481.2m-7.8 0a7.8 7.8 0 1 0 15.6 0a7.8 7.8 0 1 0 -15.6 0M684.8 512.3m-7.8 0a7.8 7.8 0 1 0 15.6 0a7.8 7.8 0 1 0 -15.6 0M684.8 527.6m-7.8 0a7.8 7.8 0 1 0 15.6 0a7.8 7.8 0 1 0 -15.6 0M711.3 491.3m-7.8 0a7.8 7.8 0 1 0 15.6 0a7.8 7.8 0 1 0 -15.6 0M718.9 524m-7.8 0a7.8 7.8 0 1 0 15.6 0a7.8 7.8 0 1 0 -15.6 0M747.2 531.6m-7.8 0a7.8 7.8 0 1 0 15.6 0a7.8 7.8 0 1 0 -15.6 0M757.2 438.9m-7.8 0a7.8 7.8 0 1 0 15.6 0a7.8 7.8 0 1 0 -15.6 0M773.1 498.3m-7.8 0a7.8 7.8 0 1 0 15.6 0a7.8 7.8 0 1 0 -15.6 0M777.1 465.8m-7.8 0a7.8 7.8 0 1 0 15.6 0a7.8 7.8 0 1 0 -15.6 0M797 459.2m-7.8 0a7.8 7.8 0 1 0 15.6 0a7.8 7.8 0 1 0 -15.6 0M806 460.8m-7.8 0a7.8 7.8 0 1 0 15.6 0a7.8 7.8 0 1 0 -15.6 0M811.4 454.8m-7.8 0a7.8 7.8 0 1 0 15.6 0a7.8 7.8 0 1 0 -15.6 0M812.6 481.2m-7.8 0a7.8 7.8 0 1 0 15.6 0a7.8 7.8 0 1 0 -15.6 0M841.3 428.9m-7.8 0a7.8 7.8 0 1 0 15.6 0a7.8 7.8 0 1 0 -15.6 0" stroke="#111" stroke-width="1.65" fill="none"/>
<line x1="585.3" y1="537.6" x2="842.5" y2="450.8" stroke="#111" stroke-width="4.9" stroke-linecap="round"/>
<text x="561.5" y="640.1" font-size="24" font-style="italic">r</text>
<text x="570" y="628.2" font-size="14">2</text>
<g transform="translate(590.9 633.9) scale(0.93 0.7) translate(-7 7.9)"><text x="0" y="0" font-size="24" style="stroke:#111;stroke-width:0.8">=</text></g>
<text x="602.6" y="640.1" font-size="24">0.39</text>
<text x="738.7" y="637.6" font-size="24" font-style="italic">y</text>
<g transform="translate(764.8 631.4) scale(0.93 0.7) translate(-7 7.9)"><text x="0" y="0" font-size="24" style="stroke:#111;stroke-width:0.8">=</text></g>
<text x="776.9" y="637.6" font-size="24">0.53</text>
<text x="825.3" y="637.6" font-size="24" font-style="italic">x</text>
<text x="839.8" y="625.4" font-size="14">0.89</text>
</g>
<g>
<rect x="961.6" y="368.1" width="331.5" height="34.7" fill="#f2f2f2" stroke="#111" stroke-width="1.7"/>
<text x="1127.3" y="392" font-size="24" text-anchor="middle">insect brood parasitism</text>
<rect x="961.6" y="402.8" width="331.5" height="243.4" fill="none" stroke="#111" stroke-width="1.7"/>
<text x="940.1" y="439.5" font-size="24" text-anchor="end">10<tspan font-size="14" dy="-12.2">0</tspan></text>
<text x="940.1" y="539.6" font-size="24" text-anchor="end">10<tspan font-size="14" dy="-12.2">−1</tspan></text>
<text x="940.1" y="639.9" font-size="24" text-anchor="end">10<tspan font-size="14" dy="-12.2">−2</tspan></text>
<text x="1091" y="689.2" font-size="24" text-anchor="middle">10<tspan font-size="14" dy="-12.2">−0.5</tspan></text>
<text x="1254.9" y="689.2" font-size="24" text-anchor="middle">10<tspan font-size="14" dy="-12.2">0</tspan></text>
<path d="M947.6 428.5H961.6M947.6 528.6H961.6M947.6 628.9H961.6M1091 646.2V660.2M1254.9 646.2V660.2" stroke="#111" stroke-width="1.6" fill="none"/>
<path d="M999.7 572.5m-7.8 0a7.8 7.8 0 1 0 15.6 0a7.8 7.8 0 1 0 -15.6 0M999.7 590m-7.8 0a7.8 7.8 0 1 0 15.6 0a7.8 7.8 0 1 0 -15.6 0M999.7 602.4m-7.8 0a7.8 7.8 0 1 0 15.6 0a7.8 7.8 0 1 0 -15.6 0M1057.5 585m-7.8 0a7.8 7.8 0 1 0 15.6 0a7.8 7.8 0 1 0 -15.6 0M1081.8 480.2m-7.8 0a7.8 7.8 0 1 0 15.6 0a7.8 7.8 0 1 0 -15.6 0M1111.9 465.2m-7.8 0a7.8 7.8 0 1 0 15.6 0a7.8 7.8 0 1 0 -15.6 0M1115.3 492.1m-7.8 0a7.8 7.8 0 1 0 15.6 0a7.8 7.8 0 1 0 -15.6 0M1130.7 446.9m-7.8 0a7.8 7.8 0 1 0 15.6 0a7.8 7.8 0 1 0 -15.6 0M1133.3 468.8m-7.8 0a7.8 7.8 0 1 0 15.6 0a7.8 7.8 0 1 0 -15.6 0M1127.3 527.6m-7.8 0a7.8 7.8 0 1 0 15.6 0a7.8 7.8 0 1 0 -15.6 0M1139.9 486.3m-7.8 0a7.8 7.8 0 1 0 15.6 0a7.8 7.8 0 1 0 -15.6 0M1142.6 496.1m-7.8 0a7.8 7.8 0 1 0 15.6 0a7.8 7.8 0 1 0 -15.6 0M1145.2 494.3m-7.8 0a7.8 7.8 0 1 0 15.6 0a7.8 7.8 0 1 0 -15.6 0M1150.6 501.1m-7.8 0a7.8 7.8 0 1 0 15.6 0a7.8 7.8 0 1 0 -15.6 0M1156.2 428.9m-7.8 0a7.8 7.8 0 1 0 15.6 0a7.8 7.8 0 1 0 -15.6 0M1155.8 517.2m-7.8 0a7.8 7.8 0 1 0 15.6 0a7.8 7.8 0 1 0 -15.6 0M1171.2 494.7m-7.8 0a7.8 7.8 0 1 0 15.6 0a7.8 7.8 0 1 0 -15.6 0M1188.5 493.1m-7.8 0a7.8 7.8 0 1 0 15.6 0a7.8 7.8 0 1 0 -15.6 0M1216.4 483.3m-7.8 0a7.8 7.8 0 1 0 15.6 0a7.8 7.8 0 1 0 -15.6 0M1227 453.8m-7.8 0a7.8 7.8 0 1 0 15.6 0a7.8 7.8 0 1 0 -15.6 0M1242.4 451.4m-7.8 0a7.8 7.8 0 1 0 15.6 0a7.8 7.8 0 1 0 -15.6 0M1250.9 432.9m-7.8 0a7.8 7.8 0 1 0 15.6 0a7.8 7.8 0 1 0 -15.6 0M1254.9 432.9m-7.8 0a7.8 7.8 0 1 0 15.6 0a7.8 7.8 0 1 0 -15.6 0" stroke="#111" stroke-width="1.65" fill="none"/>
<line x1="999.3" y1="576.9" x2="1255.3" y2="429.9" stroke="#111" stroke-width="4.9" stroke-linecap="round"/>
<text x="975.2" y="640.1" font-size="24" font-style="italic">r</text>
<text x="983.7" y="628.2" font-size="14">2</text>
<g transform="translate(1004.6 633.9) scale(0.93 0.7) translate(-7 7.9)"><text x="0" y="0" font-size="24" style="stroke:#111;stroke-width:0.8">=</text></g>
<text x="1016.3" y="640.1" font-size="24">0.71</text>
<text x="1160.2" y="637.6" font-size="24" font-style="italic">y</text>
<g transform="translate(1186.3 631.4) scale(0.93 0.7) translate(-7 7.9)"><text x="0" y="0" font-size="24" style="stroke:#111;stroke-width:0.8">=</text></g>
<text x="1198.4" y="637.6" font-size="24">0.99</text>
<text x="1246.8" y="637.6" font-size="24" font-style="italic">x</text>
<text x="1261.3" y="625.4" font-size="14">1.9</text>
</g>
<g>
<rect x="1375.3" y="368.1" width="331.5" height="34.7" fill="#f2f2f2" stroke="#111" stroke-width="1.7"/>
<text x="1541" y="392" font-size="24" text-anchor="middle">microbial biomass</text>
<rect x="1375.3" y="402.8" width="331.5" height="243.4" fill="none" stroke="#111" stroke-width="1.7"/>
<text x="1353.8" y="439.5" font-size="24" text-anchor="end">10<tspan font-size="14" dy="-12.2">0</tspan></text>
<text x="1353.8" y="539" font-size="24" text-anchor="end">10<tspan font-size="14" dy="-12.2">−0.5</tspan></text>
<text x="1353.8" y="638.7" font-size="24" text-anchor="end">10<tspan font-size="14" dy="-12.2">−1</tspan></text>
<text x="1442.6" y="689.2" font-size="24" text-anchor="middle">10<tspan font-size="14" dy="-12.2">−0.2</tspan></text>
<text x="1555.8" y="689.2" font-size="24" text-anchor="middle">10<tspan font-size="14" dy="-12.2">−0.1</tspan></text>
<text x="1668.9" y="689.2" font-size="24" text-anchor="middle">10<tspan font-size="14" dy="-12.2">0</tspan></text>
<path d="M1361.3 428.5H1375.3M1361.3 528H1375.3M1361.3 627.7H1375.3M1442.6 646.2V660.2M1555.8 646.2V660.2M1668.9 646.2V660.2" stroke="#111" stroke-width="1.6" fill="none"/>
<path d="M1413.7 501.1m-7.8 0a7.8 7.8 0 1 0 15.6 0a7.8 7.8 0 1 0 -15.6 0M1445 482.7m-7.8 0a7.8 7.8 0 1 0 15.6 0a7.8 7.8 0 1 0 -15.6 0M1508 502.3m-7.8 0a7.8 7.8 0 1 0 15.6 0a7.8 7.8 0 1 0 -15.6 0M1511 602.4m-7.8 0a7.8 7.8 0 1 0 15.6 0a7.8 7.8 0 1 0 -15.6 0M1599.1 451.2m-7.8 0a7.8 7.8 0 1 0 15.6 0a7.8 7.8 0 1 0 -15.6 0M1601.5 524.6m-7.8 0a7.8 7.8 0 1 0 15.6 0a7.8 7.8 0 1 0 -15.6 0M1621.1 485.3m-7.8 0a7.8 7.8 0 1 0 15.6 0a7.8 7.8 0 1 0 -15.6 0M1639.4 479.4m-7.8 0a7.8 7.8 0 1 0 15.6 0a7.8 7.8 0 1 0 -15.6 0M1644.4 492.7m-7.8 0a7.8 7.8 0 1 0 15.6 0a7.8 7.8 0 1 0 -15.6 0M1662.3 428.9m-7.8 0a7.8 7.8 0 1 0 15.6 0a7.8 7.8 0 1 0 -15.6 0M1664.9 449.8m-7.8 0a7.8 7.8 0 1 0 15.6 0a7.8 7.8 0 1 0 -15.6 0M1668.9 563.5m-7.8 0a7.8 7.8 0 1 0 15.6 0a7.8 7.8 0 1 0 -15.6 0" stroke="#111" stroke-width="1.65" fill="none"/>
<text x="1388.9" y="640.1" font-size="24" font-style="italic">r</text>
<text x="1397.4" y="628.2" font-size="14">2</text>
<g transform="translate(1418.3 633.9) scale(0.93 0.7) translate(-7 7.9)"><text x="0" y="0" font-size="24" style="stroke:#111;stroke-width:0.8">=</text></g>
<text x="1430" y="640.1" font-size="24">0.065</text>
<text x="1566.1" y="637.6" font-size="24" font-style="italic">y</text>
<g transform="translate(1592.2 631.4) scale(0.93 0.7) translate(-7 7.9)"><text x="0" y="0" font-size="24" style="stroke:#111;stroke-width:0.8">=</text></g>
<text x="1604.3" y="637.6" font-size="24">0.52</text>
<text x="1652.7" y="637.6" font-size="24" font-style="italic">x</text>
<text x="1667.2" y="625.4" font-size="14">0.79</text>
</g>
<g>
<rect x="1789" y="368.1" width="331.5" height="34.7" fill="#f2f2f2" stroke="#111" stroke-width="1.7"/>
<text x="1954.8" y="392" font-size="24" text-anchor="middle">woody plant abovegr. biomass</text>
<rect x="1789" y="402.8" width="331.5" height="243.4" fill="none" stroke="#111" stroke-width="1.7"/>
<text x="1767.5" y="439.5" font-size="24" text-anchor="end">10<tspan font-size="14" dy="-12.2">0</tspan></text>
<text x="1767.5" y="516.7" font-size="24" text-anchor="end">10<tspan font-size="14" dy="-12.2">−2</tspan></text>
<text x="1767.5" y="593.9" font-size="24" text-anchor="end">10<tspan font-size="14" dy="-12.2">−4</tspan></text>
<text x="1801.7" y="689.2" font-size="24" text-anchor="middle">10<tspan font-size="14" dy="-12.2">−1.5</tspan></text>
<text x="1895.1" y="689.2" font-size="24" text-anchor="middle">10<tspan font-size="14" dy="-12.2">−1</tspan></text>
<text x="1988.8" y="689.2" font-size="24" text-anchor="middle">10<tspan font-size="14" dy="-12.2">−0.5</tspan></text>
<text x="2082.9" y="689.2" font-size="24" text-anchor="middle">10<tspan font-size="14" dy="-12.2">0</tspan></text>
<path d="M1775 428.5H1789M1775 505.7H1789M1775 582.9H1789M1801.7 646.2V660.2M1895.1 646.2V660.2M1988.8 646.2V660.2M2082.9 646.2V660.2" stroke="#111" stroke-width="1.6" fill="none"/>
<path d="M1827.7 515.7m-7.8 0a7.8 7.8 0 1 0 15.6 0a7.8 7.8 0 1 0 -15.6 0M1827.7 547.6m-7.8 0a7.8 7.8 0 1 0 15.6 0a7.8 7.8 0 1 0 -15.6 0M1827.7 573.5m-7.8 0a7.8 7.8 0 1 0 15.6 0a7.8 7.8 0 1 0 -15.6 0M1827.7 575.9m-7.8 0a7.8 7.8 0 1 0 15.6 0a7.8 7.8 0 1 0 -15.6 0M1827.7 577.5m-7.8 0a7.8 7.8 0 1 0 15.6 0a7.8 7.8 0 1 0 -15.6 0M1827.7 602.4m-7.8 0a7.8 7.8 0 1 0 15.6 0a7.8 7.8 0 1 0 -15.6 0M1883.9 455.2m-7.8 0a7.8 7.8 0 1 0 15.6 0a7.8 7.8 0 1 0 -15.6 0M1883.9 482.4m-7.8 0a7.8 7.8 0 1 0 15.6 0a7.8 7.8 0 1 0 -15.6 0M1883.9 483.3m-7.8 0a7.8 7.8 0 1 0 15.6 0a7.8 7.8 0 1 0 -15.6 0M1883.9 533.6m-7.8 0a7.8 7.8 0 1 0 15.6 0a7.8 7.8 0 1 0 -15.6 0M1916.8 443.3m-7.8 0a7.8 7.8 0 1 0 15.6 0a7.8 7.8 0 1 0 -15.6 0M1916.8 446.5m-7.8 0a7.8 7.8 0 1 0 15.6 0a7.8 7.8 0 1 0 -15.6 0M1916.8 528.6m-7.8 0a7.8 7.8 0 1 0 15.6 0a7.8 7.8 0 1 0 -15.6 0M1916.8 530.2m-7.8 0a7.8 7.8 0 1 0 15.6 0a7.8 7.8 0 1 0 -15.6 0M1940.7 481.8m-7.8 0a7.8 7.8 0 1 0 15.6 0a7.8 7.8 0 1 0 -15.6 0M1973.2 522.6m-7.8 0a7.8 7.8 0 1 0 15.6 0a7.8 7.8 0 1 0 -15.6 0M1973.2 532.2m-7.8 0a7.8 7.8 0 1 0 15.6 0a7.8 7.8 0 1 0 -15.6 0M1985.8 486.7m-7.8 0a7.8 7.8 0 1 0 15.6 0a7.8 7.8 0 1 0 -15.6 0M1986.2 513.1m-7.8 0a7.8 7.8 0 1 0 15.6 0a7.8 7.8 0 1 0 -15.6 0M1986.2 515.1m-7.8 0a7.8 7.8 0 1 0 15.6 0a7.8 7.8 0 1 0 -15.6 0M1996.2 438.3m-7.8 0a7.8 7.8 0 1 0 15.6 0a7.8 7.8 0 1 0 -15.6 0M1996.2 454.8m-7.8 0a7.8 7.8 0 1 0 15.6 0a7.8 7.8 0 1 0 -15.6 0M1996.2 456.8m-7.8 0a7.8 7.8 0 1 0 15.6 0a7.8 7.8 0 1 0 -15.6 0M2006.1 452.8m-7.8 0a7.8 7.8 0 1 0 15.6 0a7.8 7.8 0 1 0 -15.6 0M2006.1 459.2m-7.8 0a7.8 7.8 0 1 0 15.6 0a7.8 7.8 0 1 0 -15.6 0M2006.1 467.8m-7.8 0a7.8 7.8 0 1 0 15.6 0a7.8 7.8 0 1 0 -15.6 0M2006.1 502.1m-7.8 0a7.8 7.8 0 1 0 15.6 0a7.8 7.8 0 1 0 -15.6 0M2014.1 437.9m-7.8 0a7.8 7.8 0 1 0 15.6 0a7.8 7.8 0 1 0 -15.6 0M2014.1 448.4m-7.8 0a7.8 7.8 0 1 0 15.6 0a7.8 7.8 0 1 0 -15.6 0M2020.7 439.9m-7.8 0a7.8 7.8 0 1 0 15.6 0a7.8 7.8 0 1 0 -15.6 0M2022.1 443.9m-7.8 0a7.8 7.8 0 1 0 15.6 0a7.8 7.8 0 1 0 -15.6 0M2025.1 439.3m-7.8 0a7.8 7.8 0 1 0 15.6 0a7.8 7.8 0 1 0 -15.6 0M2030.5 438.3m-7.8 0a7.8 7.8 0 1 0 15.6 0a7.8 7.8 0 1 0 -15.6 0M2042 468.8m-7.8 0a7.8 7.8 0 1 0 15.6 0a7.8 7.8 0 1 0 -15.6 0M2053.4 445.9m-7.8 0a7.8 7.8 0 1 0 15.6 0a7.8 7.8 0 1 0 -15.6 0M2058 428.5m-7.8 0a7.8 7.8 0 1 0 15.6 0a7.8 7.8 0 1 0 -15.6 0M2062 434.9m-7.8 0a7.8 7.8 0 1 0 15.6 0a7.8 7.8 0 1 0 -15.6 0M2063 441.9m-7.8 0a7.8 7.8 0 1 0 15.6 0a7.8 7.8 0 1 0 -15.6 0M2067 503.1m-7.8 0a7.8 7.8 0 1 0 15.6 0a7.8 7.8 0 1 0 -15.6 0M2070.9 437.9m-7.8 0a7.8 7.8 0 1 0 15.6 0a7.8 7.8 0 1 0 -15.6 0M2075.9 438.5m-7.8 0a7.8 7.8 0 1 0 15.6 0a7.8 7.8 0 1 0 -15.6 0M2083.3 436.9m-7.8 0a7.8 7.8 0 1 0 15.6 0a7.8 7.8 0 1 0 -15.6 0" stroke="#111" stroke-width="1.65" fill="none"/>
<line x1="1827.3" y1="542.2" x2="2083.3" y2="433.9" stroke="#111" stroke-width="4.9" stroke-linecap="round"/>
<text x="1802.6" y="640.1" font-size="24" font-style="italic">r</text>
<text x="1811.1" y="628.2" font-size="14">2</text>
<g transform="translate(1832 633.9) scale(0.93 0.7) translate(-7 7.9)"><text x="0" y="0" font-size="24" style="stroke:#111;stroke-width:0.8">=</text></g>
<text x="1843.7" y="640.1" font-size="24">0.53</text>
<text x="1987.6" y="637.6" font-size="24" font-style="italic">y</text>
<g transform="translate(2013.7 631.4) scale(0.93 0.7) translate(-7 7.9)"><text x="0" y="0" font-size="24" style="stroke:#111;stroke-width:0.8">=</text></g>
<text x="2025.8" y="637.6" font-size="24">0.74</text>
<text x="2074.2" y="637.6" font-size="24" font-style="italic">x</text>
<text x="2088.7" y="625.4" font-size="14">2.1</text>
</g>
<g>
<rect x="134" y="735.4" width="331.5" height="34.7" fill="#f2f2f2" stroke="#111" stroke-width="1.7"/>
<text x="299.8" y="759.3" font-size="24" text-anchor="middle">woody plant fineroot biomass</text>
<rect x="134" y="770.1" width="331.5" height="243.4" fill="none" stroke="#111" stroke-width="1.7"/>
<text x="112.5" y="806.9" font-size="24" text-anchor="end">10<tspan font-size="14" dy="-12.2">0</tspan></text>
<text x="112.5" y="870.3" font-size="24" text-anchor="end">10<tspan font-size="14" dy="-12.2">−1</tspan></text>
<text x="112.5" y="933.5" font-size="24" text-anchor="end">10<tspan font-size="14" dy="-12.2">−2</tspan></text>
<text x="112.5" y="996.8" font-size="24" text-anchor="end">10<tspan font-size="14" dy="-12.2">−3</tspan></text>
<text x="186.6" y="1056.5" font-size="24" text-anchor="middle">10<tspan font-size="14" dy="-12.2">−1</tspan></text>
<text x="306.7" y="1056.5" font-size="24" text-anchor="middle">10<tspan font-size="14" dy="-12.2">−0.5</tspan></text>
<text x="427.3" y="1056.5" font-size="24" text-anchor="middle">10<tspan font-size="14" dy="-12.2">0</tspan></text>
<path d="M120 795.9H134M120 859.3H134M120 922.5H134M120 985.8H134M186.6 1013.5V1027.5M306.7 1013.5V1027.5M427.3 1013.5V1027.5" stroke="#111" stroke-width="1.6" fill="none"/>
<path d="M172.1 838.2m-7.8 0a7.8 7.8 0 1 0 15.6 0a7.8 7.8 0 1 0 -15.6 0M172.1 859.3m-7.8 0a7.8 7.8 0 1 0 15.6 0a7.8 7.8 0 1 0 -15.6 0M172.1 871.1m-7.8 0a7.8 7.8 0 1 0 15.6 0a7.8 7.8 0 1 0 -15.6 0M172.1 969.8m-7.8 0a7.8 7.8 0 1 0 15.6 0a7.8 7.8 0 1 0 -15.6 0M214.5 798.9m-7.8 0a7.8 7.8 0 1 0 15.6 0a7.8 7.8 0 1 0 -15.6 0M214.5 809.5m-7.8 0a7.8 7.8 0 1 0 15.6 0a7.8 7.8 0 1 0 -15.6 0M214.5 814.9m-7.8 0a7.8 7.8 0 1 0 15.6 0a7.8 7.8 0 1 0 -15.6 0M214.5 855.7m-7.8 0a7.8 7.8 0 1 0 15.6 0a7.8 7.8 0 1 0 -15.6 0M244.4 872.1m-7.8 0a7.8 7.8 0 1 0 15.6 0a7.8 7.8 0 1 0 -15.6 0M286.7 840.8m-7.8 0a7.8 7.8 0 1 0 15.6 0a7.8 7.8 0 1 0 -15.6 0M286.7 842.8m-7.8 0a7.8 7.8 0 1 0 15.6 0a7.8 7.8 0 1 0 -15.6 0M302.7 839.8m-7.8 0a7.8 7.8 0 1 0 15.6 0a7.8 7.8 0 1 0 -15.6 0M316.6 799.3m-7.8 0a7.8 7.8 0 1 0 15.6 0a7.8 7.8 0 1 0 -15.6 0M316.6 823.4m-7.8 0a7.8 7.8 0 1 0 15.6 0a7.8 7.8 0 1 0 -15.6 0M316.6 861.7m-7.8 0a7.8 7.8 0 1 0 15.6 0a7.8 7.8 0 1 0 -15.6 0M329.2 817.8m-7.8 0a7.8 7.8 0 1 0 15.6 0a7.8 7.8 0 1 0 -15.6 0M329.2 842.4m-7.8 0a7.8 7.8 0 1 0 15.6 0a7.8 7.8 0 1 0 -15.6 0M329.2 862.7m-7.8 0a7.8 7.8 0 1 0 15.6 0a7.8 7.8 0 1 0 -15.6 0M329.2 865.7m-7.8 0a7.8 7.8 0 1 0 15.6 0a7.8 7.8 0 1 0 -15.6 0M340.2 820.8m-7.8 0a7.8 7.8 0 1 0 15.6 0a7.8 7.8 0 1 0 -15.6 0M340.2 838.8m-7.8 0a7.8 7.8 0 1 0 15.6 0a7.8 7.8 0 1 0 -15.6 0M350.1 830.8m-7.8 0a7.8 7.8 0 1 0 15.6 0a7.8 7.8 0 1 0 -15.6 0M350.1 841.8m-7.8 0a7.8 7.8 0 1 0 15.6 0a7.8 7.8 0 1 0 -15.6 0M350.1 853.1m-7.8 0a7.8 7.8 0 1 0 15.6 0a7.8 7.8 0 1 0 -15.6 0M359.7 831.4m-7.8 0a7.8 7.8 0 1 0 15.6 0a7.8 7.8 0 1 0 -15.6 0M375.1 853.7m-7.8 0a7.8 7.8 0 1 0 15.6 0a7.8 7.8 0 1 0 -15.6 0M395 814.9m-7.8 0a7.8 7.8 0 1 0 15.6 0a7.8 7.8 0 1 0 -15.6 0M395 831.8m-7.8 0a7.8 7.8 0 1 0 15.6 0a7.8 7.8 0 1 0 -15.6 0M402 810.3m-7.8 0a7.8 7.8 0 1 0 15.6 0a7.8 7.8 0 1 0 -15.6 0M407 825.8m-7.8 0a7.8 7.8 0 1 0 15.6 0a7.8 7.8 0 1 0 -15.6 0M407.4 833.8m-7.8 0a7.8 7.8 0 1 0 15.6 0a7.8 7.8 0 1 0 -15.6 0M417.9 796.3m-7.8 0a7.8 7.8 0 1 0 15.6 0a7.8 7.8 0 1 0 -15.6 0M426.9 833.2m-7.8 0a7.8 7.8 0 1 0 15.6 0a7.8 7.8 0 1 0 -15.6 0" stroke="#111" stroke-width="1.65" fill="none"/>
<line x1="171.3" y1="861.7" x2="428.5" y2="820.4" stroke="#111" stroke-width="4.9" stroke-linecap="round"/>
<text x="147.6" y="1007.4" font-size="24" font-style="italic">r</text>
<text x="156.1" y="995.5" font-size="14">2</text>
<g transform="translate(177 1001.2) scale(0.93 0.7) translate(-7 7.9)"><text x="0" y="0" font-size="24" style="stroke:#111;stroke-width:0.8">=</text></g>
<text x="188.7" y="1007.4" font-size="24">0.17</text>
<text x="324.9" y="1004.9" font-size="24" font-style="italic">y</text>
<g transform="translate(350.9 998.7) scale(0.93 0.7) translate(-7 7.9)"><text x="0" y="0" font-size="24" style="stroke:#111;stroke-width:0.8">=</text></g>
<text x="363" y="1004.9" font-size="24">0.42</text>
<text x="411.5" y="1004.9" font-size="24" font-style="italic">x</text>
<text x="426" y="992.7" font-size="14">0.62</text>
</g>
<g>
<rect x="547.9" y="735.4" width="331.5" height="34.7" fill="#f2f2f2" stroke="#111" stroke-width="1.7"/>
<text x="713.6" y="759.3" font-size="24" text-anchor="middle">bird biomass</text>
<rect x="547.9" y="770.1" width="331.5" height="243.4" fill="none" stroke="#111" stroke-width="1.7"/>
<text x="526.4" y="806.9" font-size="24" text-anchor="end">10<tspan font-size="14" dy="-12.2">0</tspan></text>
<text x="526.4" y="904.2" font-size="24" text-anchor="end">10<tspan font-size="14" dy="-12.2">−2</tspan></text>
<text x="526.4" y="1001.7" font-size="24" text-anchor="end">10<tspan font-size="14" dy="-12.2">−4</tspan></text>
<text x="675.4" y="1056.5" font-size="24" text-anchor="middle">10<tspan font-size="14" dy="-12.2">−1</tspan></text>
<text x="841.3" y="1056.5" font-size="24" text-anchor="middle">10<tspan font-size="14" dy="-12.2">0</tspan></text>
<path d="M533.9 795.9H547.9M533.9 893.2H547.9M533.9 990.7H547.9M675.4 1013.5V1027.5M841.3 1013.5V1027.5" stroke="#111" stroke-width="1.6" fill="none"/>
<path d="M804.6 795.9m-7.8 0a7.8 7.8 0 1 0 15.6 0a7.8 7.8 0 1 0 -15.6 0M586.1 970.4m-7.8 0a7.8 7.8 0 1 0 15.6 0a7.8 7.8 0 1 0 -15.6 0M635.5 932.1m-7.8 0a7.8 7.8 0 1 0 15.6 0a7.8 7.8 0 1 0 -15.6 0M635.5 954.4m-7.8 0a7.8 7.8 0 1 0 15.6 0a7.8 7.8 0 1 0 -15.6 0M685.4 905.2m-7.8 0a7.8 7.8 0 1 0 15.6 0a7.8 7.8 0 1 0 -15.6 0M685.4 929.1m-7.8 0a7.8 7.8 0 1 0 15.6 0a7.8 7.8 0 1 0 -15.6 0M701.3 904.6m-7.8 0a7.8 7.8 0 1 0 15.6 0a7.8 7.8 0 1 0 -15.6 0M701.3 917.6m-7.8 0a7.8 7.8 0 1 0 15.6 0a7.8 7.8 0 1 0 -15.6 0M714.3 906.6m-7.8 0a7.8 7.8 0 1 0 15.6 0a7.8 7.8 0 1 0 -15.6 0M734.8 894.6m-7.8 0a7.8 7.8 0 1 0 15.6 0a7.8 7.8 0 1 0 -15.6 0M734.8 916.6m-7.8 0a7.8 7.8 0 1 0 15.6 0a7.8 7.8 0 1 0 -15.6 0M734.8 919.5m-7.8 0a7.8 7.8 0 1 0 15.6 0a7.8 7.8 0 1 0 -15.6 0M743.2 872.7m-7.8 0a7.8 7.8 0 1 0 15.6 0a7.8 7.8 0 1 0 -15.6 0M743.2 877.7m-7.8 0a7.8 7.8 0 1 0 15.6 0a7.8 7.8 0 1 0 -15.6 0M751.2 891.6m-7.8 0a7.8 7.8 0 1 0 15.6 0a7.8 7.8 0 1 0 -15.6 0M757.2 866.3m-7.8 0a7.8 7.8 0 1 0 15.6 0a7.8 7.8 0 1 0 -15.6 0M757.2 883.6m-7.8 0a7.8 7.8 0 1 0 15.6 0a7.8 7.8 0 1 0 -15.6 0M757.8 906m-7.8 0a7.8 7.8 0 1 0 15.6 0a7.8 7.8 0 1 0 -15.6 0M762.1 871.7m-7.8 0a7.8 7.8 0 1 0 15.6 0a7.8 7.8 0 1 0 -15.6 0M762.1 882.7m-7.8 0a7.8 7.8 0 1 0 15.6 0a7.8 7.8 0 1 0 -15.6 0M774.1 854.7m-7.8 0a7.8 7.8 0 1 0 15.6 0a7.8 7.8 0 1 0 -15.6 0M774.1 861.7m-7.8 0a7.8 7.8 0 1 0 15.6 0a7.8 7.8 0 1 0 -15.6 0M775.1 878.7m-7.8 0a7.8 7.8 0 1 0 15.6 0a7.8 7.8 0 1 0 -15.6 0M778.1 867.7m-7.8 0a7.8 7.8 0 1 0 15.6 0a7.8 7.8 0 1 0 -15.6 0M781.1 863.7m-7.8 0a7.8 7.8 0 1 0 15.6 0a7.8 7.8 0 1 0 -15.6 0M784.1 872.7m-7.8 0a7.8 7.8 0 1 0 15.6 0a7.8 7.8 0 1 0 -15.6 0M785.1 833.8m-7.8 0a7.8 7.8 0 1 0 15.6 0a7.8 7.8 0 1 0 -15.6 0M789.1 886m-7.8 0a7.8 7.8 0 1 0 15.6 0a7.8 7.8 0 1 0 -15.6 0M789.1 860.7m-7.8 0a7.8 7.8 0 1 0 15.6 0a7.8 7.8 0 1 0 -15.6 0M793.1 858.7m-7.8 0a7.8 7.8 0 1 0 15.6 0a7.8 7.8 0 1 0 -15.6 0M791.5 867.7m-7.8 0a7.8 7.8 0 1 0 15.6 0a7.8 7.8 0 1 0 -15.6 0M808 834.8m-7.8 0a7.8 7.8 0 1 0 15.6 0a7.8 7.8 0 1 0 -15.6 0M811 817.8m-7.8 0a7.8 7.8 0 1 0 15.6 0a7.8 7.8 0 1 0 -15.6 0M811 850.7m-7.8 0a7.8 7.8 0 1 0 15.6 0a7.8 7.8 0 1 0 -15.6 0M811.4 861.1m-7.8 0a7.8 7.8 0 1 0 15.6 0a7.8 7.8 0 1 0 -15.6 0M814 879.3m-7.8 0a7.8 7.8 0 1 0 15.6 0a7.8 7.8 0 1 0 -15.6 0M816 867.7m-7.8 0a7.8 7.8 0 1 0 15.6 0a7.8 7.8 0 1 0 -15.6 0M818 873.3m-7.8 0a7.8 7.8 0 1 0 15.6 0a7.8 7.8 0 1 0 -15.6 0M820 834.8m-7.8 0a7.8 7.8 0 1 0 15.6 0a7.8 7.8 0 1 0 -15.6 0M820 836.8m-7.8 0a7.8 7.8 0 1 0 15.6 0a7.8 7.8 0 1 0 -15.6 0M822 861.7m-7.8 0a7.8 7.8 0 1 0 15.6 0a7.8 7.8 0 1 0 -15.6 0M823.4 874.7m-7.8 0a7.8 7.8 0 1 0 15.6 0a7.8 7.8 0 1 0 -15.6 0M828.4 807.9m-7.8 0a7.8 7.8 0 1 0 15.6 0a7.8 7.8 0 1 0 -15.6 0M834.9 859.7m-7.8 0a7.8 7.8 0 1 0 15.6 0a7.8 7.8 0 1 0 -15.6 0M841.3 869.1m-7.8 0a7.8 7.8 0 1 0 15.6 0a7.8 7.8 0 1 0 -15.6 0M766.5 878.7m-7.8 0a7.8 7.8 0 1 0 15.6 0a7.8 7.8 0 1 0 -15.6 0M780.1 869.7m-7.8 0a7.8 7.8 0 1 0 15.6 0a7.8 7.8 0 1 0 -15.6 0M788.1 869.7m-7.8 0a7.8 7.8 0 1 0 15.6 0a7.8 7.8 0 1 0 -15.6 0" stroke="#111" stroke-width="1.65" fill="none"/>
<line x1="585.3" y1="971.4" x2="842.5" y2="837.8" stroke="#111" stroke-width="4.9" stroke-linecap="round"/>
<text x="561.5" y="1007.4" font-size="24" font-style="italic">r</text>
<text x="570" y="995.5" font-size="14">2</text>
<g transform="translate(590.9 1001.2) scale(0.93 0.7) translate(-7 7.9)"><text x="0" y="0" font-size="24" style="stroke:#111;stroke-width:0.8">=</text></g>
<text x="602.6" y="1007.4" font-size="24">0.73</text>
<text x="746.5" y="1004.9" font-size="24" font-style="italic">y</text>
<g transform="translate(772.5 998.7) scale(0.93 0.7) translate(-7 7.9)"><text x="0" y="0" font-size="24" style="stroke:#111;stroke-width:0.8">=</text></g>
<text x="784.6" y="1004.9" font-size="24">0.14</text>
<text x="833" y="1004.9" font-size="24" font-style="italic">x</text>
<text x="847.5" y="992.7" font-size="14">1.8</text>
</g>
<g>
<rect x="961.6" y="735.4" width="331.5" height="34.7" fill="#f2f2f2" stroke="#111" stroke-width="1.7"/>
<text x="1127.3" y="759.3" font-size="24" text-anchor="middle">insectivorous bat biomass</text>
<rect x="961.6" y="770.1" width="331.5" height="243.4" fill="none" stroke="#111" stroke-width="1.7"/>
<text x="940.1" y="806.9" font-size="24" text-anchor="end">10<tspan font-size="14" dy="-12.2">0</tspan></text>
<text x="940.1" y="897.2" font-size="24" text-anchor="end">10<tspan font-size="14" dy="-12.2">−1</tspan></text>
<text x="940.1" y="987.4" font-size="24" text-anchor="end">10<tspan font-size="14" dy="-12.2">−2</tspan></text>
<text x="1037.9" y="1056.5" font-size="24" text-anchor="middle">10<tspan font-size="14" dy="-12.2">−1</tspan></text>
<text x="1146.2" y="1056.5" font-size="24" text-anchor="middle">10<tspan font-size="14" dy="-12.2">−0.5</tspan></text>
<text x="1254.9" y="1056.5" font-size="24" text-anchor="middle">10<tspan font-size="14" dy="-12.2">0</tspan></text>
<path d="M947.6 795.9H961.6M947.6 886.2H961.6M947.6 976.4H961.6M1037.9 1013.5V1027.5M1146.2 1013.5V1027.5M1254.9 1013.5V1027.5" stroke="#111" stroke-width="1.6" fill="none"/>
<path d="M999.7 916m-7.8 0a7.8 7.8 0 1 0 15.6 0a7.8 7.8 0 1 0 -15.6 0M999.7 959m-7.8 0a7.8 7.8 0 1 0 15.6 0a7.8 7.8 0 1 0 -15.6 0M1065.1 881.7m-7.8 0a7.8 7.8 0 1 0 15.6 0a7.8 7.8 0 1 0 -15.6 0M1065.1 883.3m-7.8 0a7.8 7.8 0 1 0 15.6 0a7.8 7.8 0 1 0 -15.6 0M1065.1 916m-7.8 0a7.8 7.8 0 1 0 15.6 0a7.8 7.8 0 1 0 -15.6 0M1065.1 955.4m-7.8 0a7.8 7.8 0 1 0 15.6 0a7.8 7.8 0 1 0 -15.6 0M1065.1 970m-7.8 0a7.8 7.8 0 1 0 15.6 0a7.8 7.8 0 1 0 -15.6 0M1103.4 850.7m-7.8 0a7.8 7.8 0 1 0 15.6 0a7.8 7.8 0 1 0 -15.6 0M1103.4 867.7m-7.8 0a7.8 7.8 0 1 0 15.6 0a7.8 7.8 0 1 0 -15.6 0M1103.4 869.1m-7.8 0a7.8 7.8 0 1 0 15.6 0a7.8 7.8 0 1 0 -15.6 0M1103.4 894.6m-7.8 0a7.8 7.8 0 1 0 15.6 0a7.8 7.8 0 1 0 -15.6 0M1103.4 915.6m-7.8 0a7.8 7.8 0 1 0 15.6 0a7.8 7.8 0 1 0 -15.6 0M1103.4 940.5m-7.8 0a7.8 7.8 0 1 0 15.6 0a7.8 7.8 0 1 0 -15.6 0M1130.7 862.7m-7.8 0a7.8 7.8 0 1 0 15.6 0a7.8 7.8 0 1 0 -15.6 0M1130.7 879.7m-7.8 0a7.8 7.8 0 1 0 15.6 0a7.8 7.8 0 1 0 -15.6 0M1130.7 891.2m-7.8 0a7.8 7.8 0 1 0 15.6 0a7.8 7.8 0 1 0 -15.6 0M1130.7 903.6m-7.8 0a7.8 7.8 0 1 0 15.6 0a7.8 7.8 0 1 0 -15.6 0M1130.7 931.5m-7.8 0a7.8 7.8 0 1 0 15.6 0a7.8 7.8 0 1 0 -15.6 0M1151.6 855.7m-7.8 0a7.8 7.8 0 1 0 15.6 0a7.8 7.8 0 1 0 -15.6 0M1151.6 871.7m-7.8 0a7.8 7.8 0 1 0 15.6 0a7.8 7.8 0 1 0 -15.6 0M1151.6 890.6m-7.8 0a7.8 7.8 0 1 0 15.6 0a7.8 7.8 0 1 0 -15.6 0M1151.6 911m-7.8 0a7.8 7.8 0 1 0 15.6 0a7.8 7.8 0 1 0 -15.6 0M1168.8 843.8m-7.8 0a7.8 7.8 0 1 0 15.6 0a7.8 7.8 0 1 0 -15.6 0M1168.8 847.8m-7.8 0a7.8 7.8 0 1 0 15.6 0a7.8 7.8 0 1 0 -15.6 0M1168.8 855.7m-7.8 0a7.8 7.8 0 1 0 15.6 0a7.8 7.8 0 1 0 -15.6 0M1168.8 866.7m-7.8 0a7.8 7.8 0 1 0 15.6 0a7.8 7.8 0 1 0 -15.6 0M1168.8 901m-7.8 0a7.8 7.8 0 1 0 15.6 0a7.8 7.8 0 1 0 -15.6 0M1183.1 853.1m-7.8 0a7.8 7.8 0 1 0 15.6 0a7.8 7.8 0 1 0 -15.6 0M1183.1 872.7m-7.8 0a7.8 7.8 0 1 0 15.6 0a7.8 7.8 0 1 0 -15.6 0M1195.5 855.7m-7.8 0a7.8 7.8 0 1 0 15.6 0a7.8 7.8 0 1 0 -15.6 0M1195.5 882.1m-7.8 0a7.8 7.8 0 1 0 15.6 0a7.8 7.8 0 1 0 -15.6 0M1195.1 830.8m-7.8 0a7.8 7.8 0 1 0 15.6 0a7.8 7.8 0 1 0 -15.6 0M1205.1 815.4m-7.8 0a7.8 7.8 0 1 0 15.6 0a7.8 7.8 0 1 0 -15.6 0M1207.1 819.8m-7.8 0a7.8 7.8 0 1 0 15.6 0a7.8 7.8 0 1 0 -15.6 0M1205.5 824.8m-7.8 0a7.8 7.8 0 1 0 15.6 0a7.8 7.8 0 1 0 -15.6 0M1207.1 832.8m-7.8 0a7.8 7.8 0 1 0 15.6 0a7.8 7.8 0 1 0 -15.6 0M1207.1 839.8m-7.8 0a7.8 7.8 0 1 0 15.6 0a7.8 7.8 0 1 0 -15.6 0M1207.1 850.7m-7.8 0a7.8 7.8 0 1 0 15.6 0a7.8 7.8 0 1 0 -15.6 0M1207.1 863.7m-7.8 0a7.8 7.8 0 1 0 15.6 0a7.8 7.8 0 1 0 -15.6 0M1207.1 865.7m-7.8 0a7.8 7.8 0 1 0 15.6 0a7.8 7.8 0 1 0 -15.6 0M1216.4 799.5m-7.8 0a7.8 7.8 0 1 0 15.6 0a7.8 7.8 0 1 0 -15.6 0M1216.4 803.9m-7.8 0a7.8 7.8 0 1 0 15.6 0a7.8 7.8 0 1 0 -15.6 0M1217.4 806.9m-7.8 0a7.8 7.8 0 1 0 15.6 0a7.8 7.8 0 1 0 -15.6 0M1217 816.8m-7.8 0a7.8 7.8 0 1 0 15.6 0a7.8 7.8 0 1 0 -15.6 0M1218 827.8m-7.8 0a7.8 7.8 0 1 0 15.6 0a7.8 7.8 0 1 0 -15.6 0M1225.4 808.9m-7.8 0a7.8 7.8 0 1 0 15.6 0a7.8 7.8 0 1 0 -15.6 0M1233.4 806.9m-7.8 0a7.8 7.8 0 1 0 15.6 0a7.8 7.8 0 1 0 -15.6 0M1248.3 822.8m-7.8 0a7.8 7.8 0 1 0 15.6 0a7.8 7.8 0 1 0 -15.6 0M1255.3 795.9m-7.8 0a7.8 7.8 0 1 0 15.6 0a7.8 7.8 0 1 0 -15.6 0" stroke="#111" stroke-width="1.65" fill="none"/>
<line x1="999.3" y1="957.4" x2="1255.3" y2="808.9" stroke="#111" stroke-width="4.9" stroke-linecap="round"/>
<text x="975.2" y="1007.4" font-size="24" font-style="italic">r</text>
<text x="983.7" y="995.5" font-size="14">2</text>
<g transform="translate(1004.6 1001.2) scale(0.93 0.7) translate(-7 7.9)"><text x="0" y="0" font-size="24" style="stroke:#111;stroke-width:0.8">=</text></g>
<text x="1016.3" y="1007.4" font-size="24">0.68</text>
<text x="1160" y="1004.9" font-size="24" font-style="italic">y</text>
<g transform="translate(1186 998.7) scale(0.93 0.7) translate(-7 7.9)"><text x="0" y="0" font-size="24" style="stroke:#111;stroke-width:0.8">=</text></g>
<text x="1198.1" y="1004.9" font-size="24">0.71</text>
<text x="1246.5" y="1004.9" font-size="24" font-style="italic">x</text>
<text x="1261" y="992.7" font-size="14">1.4</text>
</g>
<g>
<rect x="1375.3" y="735.4" width="331.5" height="34.7" fill="#f2f2f2" stroke="#111" stroke-width="1.7"/>
<text x="1541" y="759.3" font-size="24" text-anchor="middle">fruit bat biomass</text>
<rect x="1375.3" y="770.1" width="331.5" height="243.4" fill="none" stroke="#111" stroke-width="1.7"/>
<text x="1353.8" y="806.9" font-size="24" text-anchor="end">10<tspan font-size="14" dy="-12.2">0</tspan></text>
<text x="1353.8" y="901.6" font-size="24" text-anchor="end">10<tspan font-size="14" dy="-12.2">−1</tspan></text>
<text x="1353.8" y="996.4" font-size="24" text-anchor="end">10<tspan font-size="14" dy="-12.2">−2</tspan></text>
<text x="1486" y="1056.5" font-size="24" text-anchor="middle">10<tspan font-size="14" dy="-12.2">−0.5</tspan></text>
<text x="1668.9" y="1056.5" font-size="24" text-anchor="middle">10<tspan font-size="14" dy="-12.2">0</tspan></text>
<path d="M1361.3 795.9H1375.3M1361.3 890.6H1375.3M1361.3 985.4H1375.3M1486 1013.5V1027.5M1668.9 1013.5V1027.5" stroke="#111" stroke-width="1.6" fill="none"/>
<path d="M1413.7 853.3m-7.8 0a7.8 7.8 0 1 0 15.6 0a7.8 7.8 0 1 0 -15.6 0M1413.7 924.5m-7.8 0a7.8 7.8 0 1 0 15.6 0a7.8 7.8 0 1 0 -15.6 0M1413.7 969.8m-7.8 0a7.8 7.8 0 1 0 15.6 0a7.8 7.8 0 1 0 -15.6 0M1523.7 806.9m-7.8 0a7.8 7.8 0 1 0 15.6 0a7.8 7.8 0 1 0 -15.6 0M1523.7 814.5m-7.8 0a7.8 7.8 0 1 0 15.6 0a7.8 7.8 0 1 0 -15.6 0M1523.7 824.2m-7.8 0a7.8 7.8 0 1 0 15.6 0a7.8 7.8 0 1 0 -15.6 0M1523.7 852.7m-7.8 0a7.8 7.8 0 1 0 15.6 0a7.8 7.8 0 1 0 -15.6 0M1523.7 855.7m-7.8 0a7.8 7.8 0 1 0 15.6 0a7.8 7.8 0 1 0 -15.6 0M1523.7 861.7m-7.8 0a7.8 7.8 0 1 0 15.6 0a7.8 7.8 0 1 0 -15.6 0M1523.7 869.7m-7.8 0a7.8 7.8 0 1 0 15.6 0a7.8 7.8 0 1 0 -15.6 0M1523.7 878.3m-7.8 0a7.8 7.8 0 1 0 15.6 0a7.8 7.8 0 1 0 -15.6 0M1523.7 886.6m-7.8 0a7.8 7.8 0 1 0 15.6 0a7.8 7.8 0 1 0 -15.6 0M1523.7 931.1m-7.8 0a7.8 7.8 0 1 0 15.6 0a7.8 7.8 0 1 0 -15.6 0M1588.2 801.5m-7.8 0a7.8 7.8 0 1 0 15.6 0a7.8 7.8 0 1 0 -15.6 0M1588.2 811.3m-7.8 0a7.8 7.8 0 1 0 15.6 0a7.8 7.8 0 1 0 -15.6 0M1588.2 826.4m-7.8 0a7.8 7.8 0 1 0 15.6 0a7.8 7.8 0 1 0 -15.6 0M1588.2 837.2m-7.8 0a7.8 7.8 0 1 0 15.6 0a7.8 7.8 0 1 0 -15.6 0M1588.2 869.1m-7.8 0a7.8 7.8 0 1 0 15.6 0a7.8 7.8 0 1 0 -15.6 0M1633.6 795.9m-7.8 0a7.8 7.8 0 1 0 15.6 0a7.8 7.8 0 1 0 -15.6 0M1633.6 805.9m-7.8 0a7.8 7.8 0 1 0 15.6 0a7.8 7.8 0 1 0 -15.6 0M1633.6 864.3m-7.8 0a7.8 7.8 0 1 0 15.6 0a7.8 7.8 0 1 0 -15.6 0M1668.9 820.2m-7.8 0a7.8 7.8 0 1 0 15.6 0a7.8 7.8 0 1 0 -15.6 0" stroke="#111" stroke-width="1.65" fill="none"/>
<line x1="1413.3" y1="918.5" x2="1669.9" y2="793.5" stroke="#111" stroke-width="4.9" stroke-linecap="round"/>
<text x="1388.9" y="1007.4" font-size="24" font-style="italic">r</text>
<text x="1397.4" y="995.5" font-size="14">2</text>
<g transform="translate(1418.3 1001.2) scale(0.93 0.7) translate(-7 7.9)"><text x="0" y="0" font-size="24" style="stroke:#111;stroke-width:0.8">=</text></g>
<text x="1430" y="1007.4" font-size="24">0.5</text>
<text x="1588.2" y="1004.9" font-size="24" font-style="italic">y</text>
<g transform="translate(1614.2 998.7) scale(0.93 0.7) translate(-7 7.9)"><text x="0" y="0" font-size="24" style="stroke:#111;stroke-width:0.8">=</text></g>
<text x="1625.4" y="1004.9" font-size="24">1.1</text>
<text x="1660.5" y="1004.9" font-size="24" font-style="italic">x</text>
<text x="1675" y="992.7" font-size="14">1.9</text>
</g>
<g>
<rect x="1789" y="735.4" width="331.5" height="34.7" fill="#f2f2f2" stroke="#111" stroke-width="1.7"/>
<text x="1954.8" y="759.3" font-size="24" text-anchor="middle">terrestrial mammal biomass</text>
<rect x="1789" y="770.1" width="331.5" height="243.4" fill="none" stroke="#111" stroke-width="1.7"/>
<text x="1767.5" y="806.9" font-size="24" text-anchor="end">10<tspan font-size="14" dy="-12.2">0</tspan></text>
<text x="1767.5" y="875.7" font-size="24" text-anchor="end">10<tspan font-size="14" dy="-12.2">−2</tspan></text>
<text x="1767.5" y="944.5" font-size="24" text-anchor="end">10<tspan font-size="14" dy="-12.2">−4</tspan></text>
<text x="1767.5" y="1013.3" font-size="24" text-anchor="end">10<tspan font-size="14" dy="-12.2">−6</tspan></text>
<text x="1800.3" y="1056.5" font-size="24" text-anchor="middle">10<tspan font-size="14" dy="-12.2">−1</tspan></text>
<text x="1941.3" y="1056.5" font-size="24" text-anchor="middle">10<tspan font-size="14" dy="-12.2">−0.5</tspan></text>
<text x="2082.9" y="1056.5" font-size="24" text-anchor="middle">10<tspan font-size="14" dy="-12.2">0</tspan></text>
<path d="M1775 795.9H1789M1775 864.7H1789M1775 933.5H1789M1775 1002.3H1789M1800.3 1013.5V1027.5M1941.3 1013.5V1027.5M2082.9 1013.5V1027.5" stroke="#111" stroke-width="1.6" fill="none"/>
<path d="M1827.7 878.7m-7.8 0a7.8 7.8 0 1 0 15.6 0a7.8 7.8 0 1 0 -15.6 0M1827.7 880.1m-7.8 0a7.8 7.8 0 1 0 15.6 0a7.8 7.8 0 1 0 -15.6 0M1827.7 881.7m-7.8 0a7.8 7.8 0 1 0 15.6 0a7.8 7.8 0 1 0 -15.6 0M1827.7 883.6m-7.8 0a7.8 7.8 0 1 0 15.6 0a7.8 7.8 0 1 0 -15.6 0M1827.7 886m-7.8 0a7.8 7.8 0 1 0 15.6 0a7.8 7.8 0 1 0 -15.6 0M1827.7 888.6m-7.8 0a7.8 7.8 0 1 0 15.6 0a7.8 7.8 0 1 0 -15.6 0M1827.7 895.6m-7.8 0a7.8 7.8 0 1 0 15.6 0a7.8 7.8 0 1 0 -15.6 0M1827.7 902.6m-7.8 0a7.8 7.8 0 1 0 15.6 0a7.8 7.8 0 1 0 -15.6 0M1827.7 912.6m-7.8 0a7.8 7.8 0 1 0 15.6 0a7.8 7.8 0 1 0 -15.6 0M1827.7 917.6m-7.8 0a7.8 7.8 0 1 0 15.6 0a7.8 7.8 0 1 0 -15.6 0M1827.7 920.9m-7.8 0a7.8 7.8 0 1 0 15.6 0a7.8 7.8 0 1 0 -15.6 0M1827.7 930.5m-7.8 0a7.8 7.8 0 1 0 15.6 0a7.8 7.8 0 1 0 -15.6 0M1827.7 969.8m-7.8 0a7.8 7.8 0 1 0 15.6 0a7.8 7.8 0 1 0 -15.6 0M1912.8 859.7m-7.8 0a7.8 7.8 0 1 0 15.6 0a7.8 7.8 0 1 0 -15.6 0M1912.8 878.1m-7.8 0a7.8 7.8 0 1 0 15.6 0a7.8 7.8 0 1 0 -15.6 0M1912.8 880.7m-7.8 0a7.8 7.8 0 1 0 15.6 0a7.8 7.8 0 1 0 -15.6 0M1912.8 883.6m-7.8 0a7.8 7.8 0 1 0 15.6 0a7.8 7.8 0 1 0 -15.6 0M1912.8 887.6m-7.8 0a7.8 7.8 0 1 0 15.6 0a7.8 7.8 0 1 0 -15.6 0M1912.8 889.6m-7.8 0a7.8 7.8 0 1 0 15.6 0a7.8 7.8 0 1 0 -15.6 0M1912.8 899.6m-7.8 0a7.8 7.8 0 1 0 15.6 0a7.8 7.8 0 1 0 -15.6 0M1912.8 901.6m-7.8 0a7.8 7.8 0 1 0 15.6 0a7.8 7.8 0 1 0 -15.6 0M1912.8 907.6m-7.8 0a7.8 7.8 0 1 0 15.6 0a7.8 7.8 0 1 0 -15.6 0M1912.8 928.9m-7.8 0a7.8 7.8 0 1 0 15.6 0a7.8 7.8 0 1 0 -15.6 0M1962.7 844.8m-7.8 0a7.8 7.8 0 1 0 15.6 0a7.8 7.8 0 1 0 -15.6 0M1962.7 851.7m-7.8 0a7.8 7.8 0 1 0 15.6 0a7.8 7.8 0 1 0 -15.6 0M1962.7 857.7m-7.8 0a7.8 7.8 0 1 0 15.6 0a7.8 7.8 0 1 0 -15.6 0M1962.7 862.7m-7.8 0a7.8 7.8 0 1 0 15.6 0a7.8 7.8 0 1 0 -15.6 0M1962.7 867.7m-7.8 0a7.8 7.8 0 1 0 15.6 0a7.8 7.8 0 1 0 -15.6 0M1962.7 871.1m-7.8 0a7.8 7.8 0 1 0 15.6 0a7.8 7.8 0 1 0 -15.6 0M1962.7 873.7m-7.8 0a7.8 7.8 0 1 0 15.6 0a7.8 7.8 0 1 0 -15.6 0M1962.7 875.7m-7.8 0a7.8 7.8 0 1 0 15.6 0a7.8 7.8 0 1 0 -15.6 0M1962.7 878.7m-7.8 0a7.8 7.8 0 1 0 15.6 0a7.8 7.8 0 1 0 -15.6 0M1962.7 881.7m-7.8 0a7.8 7.8 0 1 0 15.6 0a7.8 7.8 0 1 0 -15.6 0M1962.7 883.6m-7.8 0a7.8 7.8 0 1 0 15.6 0a7.8 7.8 0 1 0 -15.6 0M1962.7 888.6m-7.8 0a7.8 7.8 0 1 0 15.6 0a7.8 7.8 0 1 0 -15.6 0M1962.7 891.6m-7.8 0a7.8 7.8 0 1 0 15.6 0a7.8 7.8 0 1 0 -15.6 0M1962.7 895m-7.8 0a7.8 7.8 0 1 0 15.6 0a7.8 7.8 0 1 0 -15.6 0M1962.7 897.6m-7.8 0a7.8 7.8 0 1 0 15.6 0a7.8 7.8 0 1 0 -15.6 0M1962.7 901.6m-7.8 0a7.8 7.8 0 1 0 15.6 0a7.8 7.8 0 1 0 -15.6 0M1962.7 904.6m-7.8 0a7.8 7.8 0 1 0 15.6 0a7.8 7.8 0 1 0 -15.6 0M1962.7 907.2m-7.8 0a7.8 7.8 0 1 0 15.6 0a7.8 7.8 0 1 0 -15.6 0M1962.7 909.2m-7.8 0a7.8 7.8 0 1 0 15.6 0a7.8 7.8 0 1 0 -15.6 0M1997.6 850.7m-7.8 0a7.8 7.8 0 1 0 15.6 0a7.8 7.8 0 1 0 -15.6 0M1997.6 852.7m-7.8 0a7.8 7.8 0 1 0 15.6 0a7.8 7.8 0 1 0 -15.6 0M1997.6 861.7m-7.8 0a7.8 7.8 0 1 0 15.6 0a7.8 7.8 0 1 0 -15.6 0M2025.1 827.4m-7.8 0a7.8 7.8 0 1 0 15.6 0a7.8 7.8 0 1 0 -15.6 0M2025.1 863.7m-7.8 0a7.8 7.8 0 1 0 15.6 0a7.8 7.8 0 1 0 -15.6 0M2025.1 889.6m-7.8 0a7.8 7.8 0 1 0 15.6 0a7.8 7.8 0 1 0 -15.6 0M2047.6 795.9m-7.8 0a7.8 7.8 0 1 0 15.6 0a7.8 7.8 0 1 0 -15.6 0M2047.6 828.8m-7.8 0a7.8 7.8 0 1 0 15.6 0a7.8 7.8 0 1 0 -15.6 0M2047.6 854.3m-7.8 0a7.8 7.8 0 1 0 15.6 0a7.8 7.8 0 1 0 -15.6 0M2047.6 872.7m-7.8 0a7.8 7.8 0 1 0 15.6 0a7.8 7.8 0 1 0 -15.6 0M2047.6 876.7m-7.8 0a7.8 7.8 0 1 0 15.6 0a7.8 7.8 0 1 0 -15.6 0M2066.6 852.7m-7.8 0a7.8 7.8 0 1 0 15.6 0a7.8 7.8 0 1 0 -15.6 0M2066.6 864.3m-7.8 0a7.8 7.8 0 1 0 15.6 0a7.8 7.8 0 1 0 -15.6 0M2082.9 871.7m-7.8 0a7.8 7.8 0 1 0 15.6 0a7.8 7.8 0 1 0 -15.6 0" stroke="#111" stroke-width="1.65" fill="none"/>
<line x1="1827.3" y1="905.2" x2="2083.9" y2="850.7" stroke="#111" stroke-width="4.9" stroke-linecap="round"/>
<text x="1802.6" y="1007.4" font-size="24" font-style="italic">r</text>
<text x="1811.1" y="995.5" font-size="14">2</text>
<g transform="translate(1832 1001.2) scale(0.93 0.7) translate(-7 7.9)"><text x="0" y="0" font-size="24" style="stroke:#111;stroke-width:0.8">=</text></g>
<text x="1843.7" y="1007.4" font-size="24">0.38</text>
<text x="1974.2" y="1004.9" font-size="24" font-style="italic">y</text>
<g transform="translate(2000.3 998.7) scale(0.93 0.7) translate(-7 7.9)"><text x="0" y="0" font-size="24" style="stroke:#111;stroke-width:0.8">=</text></g>
<text x="2012.4" y="1004.9" font-size="24">0.026</text>
<text x="2074.1" y="1004.9" font-size="24" font-style="italic">x</text>
<text x="2088.6" y="992.7" font-size="14">1.8</text>
</g>
<g>
<rect x="134" y="1102.7" width="331.5" height="34.7" fill="#f2f2f2" stroke="#111" stroke-width="1.7"/>
<text x="299.8" y="1126.6" font-size="24" text-anchor="middle">bee biomass</text>
<rect x="134" y="1137.4" width="331.5" height="243.4" fill="none" stroke="#111" stroke-width="1.7"/>
<text x="112.5" y="1174.3" font-size="24" text-anchor="end">10<tspan font-size="14" dy="-12.2">0</tspan></text>
<text x="112.5" y="1248.7" font-size="24" text-anchor="end">10<tspan font-size="14" dy="-12.2">−1</tspan></text>
<text x="112.5" y="1323.1" font-size="24" text-anchor="end">10<tspan font-size="14" dy="-12.2">−2</tspan></text>
<text x="227.9" y="1423.8" font-size="24" text-anchor="middle">10<tspan font-size="14" dy="-12.2">−1</tspan></text>
<text x="327.6" y="1423.8" font-size="24" text-anchor="middle">10<tspan font-size="14" dy="-12.2">−0.5</tspan></text>
<text x="427.3" y="1423.8" font-size="24" text-anchor="middle">10<tspan font-size="14" dy="-12.2">0</tspan></text>
<path d="M120 1163.3H134M120 1237.7H134M120 1312.1H134M227.9 1380.8V1394.8M327.6 1380.8V1394.8M427.3 1380.8V1394.8" stroke="#111" stroke-width="1.6" fill="none"/>
<path d="M172.1 1180.5m-7.8 0a7.8 7.8 0 1 0 15.6 0a7.8 7.8 0 1 0 -15.6 0M172.1 1189.8m-7.8 0a7.8 7.8 0 1 0 15.6 0a7.8 7.8 0 1 0 -15.6 0M172.1 1197.8m-7.8 0a7.8 7.8 0 1 0 15.6 0a7.8 7.8 0 1 0 -15.6 0M172.1 1212.4m-7.8 0a7.8 7.8 0 1 0 15.6 0a7.8 7.8 0 1 0 -15.6 0M172.1 1226.7m-7.8 0a7.8 7.8 0 1 0 15.6 0a7.8 7.8 0 1 0 -15.6 0M172.1 1268.6m-7.8 0a7.8 7.8 0 1 0 15.6 0a7.8 7.8 0 1 0 -15.6 0M172.1 1274.6m-7.8 0a7.8 7.8 0 1 0 15.6 0a7.8 7.8 0 1 0 -15.6 0M172.1 1277.6m-7.8 0a7.8 7.8 0 1 0 15.6 0a7.8 7.8 0 1 0 -15.6 0M172.1 1279.6m-7.8 0a7.8 7.8 0 1 0 15.6 0a7.8 7.8 0 1 0 -15.6 0M172.1 1299.1m-7.8 0a7.8 7.8 0 1 0 15.6 0a7.8 7.8 0 1 0 -15.6 0M172.1 1337m-7.8 0a7.8 7.8 0 1 0 15.6 0a7.8 7.8 0 1 0 -15.6 0M232.5 1190.2m-7.8 0a7.8 7.8 0 1 0 15.6 0a7.8 7.8 0 1 0 -15.6 0M232.5 1271m-7.8 0a7.8 7.8 0 1 0 15.6 0a7.8 7.8 0 1 0 -15.6 0M232.5 1295.5m-7.8 0a7.8 7.8 0 1 0 15.6 0a7.8 7.8 0 1 0 -15.6 0M267.8 1214.4m-7.8 0a7.8 7.8 0 1 0 15.6 0a7.8 7.8 0 1 0 -15.6 0M267.8 1240.3m-7.8 0a7.8 7.8 0 1 0 15.6 0a7.8 7.8 0 1 0 -15.6 0M267.8 1261.2m-7.8 0a7.8 7.8 0 1 0 15.6 0a7.8 7.8 0 1 0 -15.6 0M267.8 1278.2m-7.8 0a7.8 7.8 0 1 0 15.6 0a7.8 7.8 0 1 0 -15.6 0M267.8 1280.6m-7.8 0a7.8 7.8 0 1 0 15.6 0a7.8 7.8 0 1 0 -15.6 0M267.8 1286.5m-7.8 0a7.8 7.8 0 1 0 15.6 0a7.8 7.8 0 1 0 -15.6 0M292.3 1214.4m-7.8 0a7.8 7.8 0 1 0 15.6 0a7.8 7.8 0 1 0 -15.6 0M292.3 1278.6m-7.8 0a7.8 7.8 0 1 0 15.6 0a7.8 7.8 0 1 0 -15.6 0M292.3 1279.6m-7.8 0a7.8 7.8 0 1 0 15.6 0a7.8 7.8 0 1 0 -15.6 0M292.3 1314.9m-7.8 0a7.8 7.8 0 1 0 15.6 0a7.8 7.8 0 1 0 -15.6 0M311.7 1245.1m-7.8 0a7.8 7.8 0 1 0 15.6 0a7.8 7.8 0 1 0 -15.6 0M311.7 1266m-7.8 0a7.8 7.8 0 1 0 15.6 0a7.8 7.8 0 1 0 -15.6 0M340.8 1209.8m-7.8 0a7.8 7.8 0 1 0 15.6 0a7.8 7.8 0 1 0 -15.6 0M340.8 1218.7m-7.8 0a7.8 7.8 0 1 0 15.6 0a7.8 7.8 0 1 0 -15.6 0M352.5 1203.2m-7.8 0a7.8 7.8 0 1 0 15.6 0a7.8 7.8 0 1 0 -15.6 0M352.5 1221.7m-7.8 0a7.8 7.8 0 1 0 15.6 0a7.8 7.8 0 1 0 -15.6 0M352.5 1247.7m-7.8 0a7.8 7.8 0 1 0 15.6 0a7.8 7.8 0 1 0 -15.6 0M363.1 1247.7m-7.8 0a7.8 7.8 0 1 0 15.6 0a7.8 7.8 0 1 0 -15.6 0M371.5 1211.4m-7.8 0a7.8 7.8 0 1 0 15.6 0a7.8 7.8 0 1 0 -15.6 0M371.5 1226.7m-7.8 0a7.8 7.8 0 1 0 15.6 0a7.8 7.8 0 1 0 -15.6 0M371.5 1232.3m-7.8 0a7.8 7.8 0 1 0 15.6 0a7.8 7.8 0 1 0 -15.6 0M380.1 1162.9m-7.8 0a7.8 7.8 0 1 0 15.6 0a7.8 7.8 0 1 0 -15.6 0M380.1 1176.9m-7.8 0a7.8 7.8 0 1 0 15.6 0a7.8 7.8 0 1 0 -15.6 0M387 1202.2m-7.8 0a7.8 7.8 0 1 0 15.6 0a7.8 7.8 0 1 0 -15.6 0M395 1186.4m-7.8 0a7.8 7.8 0 1 0 15.6 0a7.8 7.8 0 1 0 -15.6 0M395 1210.8m-7.8 0a7.8 7.8 0 1 0 15.6 0a7.8 7.8 0 1 0 -15.6 0M401 1188.8m-7.8 0a7.8 7.8 0 1 0 15.6 0a7.8 7.8 0 1 0 -15.6 0M407.4 1205.4m-7.8 0a7.8 7.8 0 1 0 15.6 0a7.8 7.8 0 1 0 -15.6 0M412.4 1166.5m-7.8 0a7.8 7.8 0 1 0 15.6 0a7.8 7.8 0 1 0 -15.6 0M414.9 1173.9m-7.8 0a7.8 7.8 0 1 0 15.6 0a7.8 7.8 0 1 0 -15.6 0M417.9 1194.8m-7.8 0a7.8 7.8 0 1 0 15.6 0a7.8 7.8 0 1 0 -15.6 0M417.9 1200.8m-7.8 0a7.8 7.8 0 1 0 15.6 0a7.8 7.8 0 1 0 -15.6 0M420.9 1178.9m-7.8 0a7.8 7.8 0 1 0 15.6 0a7.8 7.8 0 1 0 -15.6 0M422.9 1166.5m-7.8 0a7.8 7.8 0 1 0 15.6 0a7.8 7.8 0 1 0 -15.6 0M424.9 1176.9m-7.8 0a7.8 7.8 0 1 0 15.6 0a7.8 7.8 0 1 0 -15.6 0M427.3 1180.9m-7.8 0a7.8 7.8 0 1 0 15.6 0a7.8 7.8 0 1 0 -15.6 0M427.3 1185.2m-7.8 0a7.8 7.8 0 1 0 15.6 0a7.8 7.8 0 1 0 -15.6 0M424.9 1190.8m-7.8 0a7.8 7.8 0 1 0 15.6 0a7.8 7.8 0 1 0 -15.6 0" stroke="#111" stroke-width="1.65" fill="none"/>
<line x1="171.3" y1="1268.6" x2="428.5" y2="1194.8" stroke="#111" stroke-width="4.9" stroke-linecap="round"/>
<text x="147.6" y="1374.7" font-size="24" font-style="italic">r</text>
<text x="156.1" y="1362.8" font-size="14">2</text>
<g transform="translate(177 1368.5) scale(0.93 0.7) translate(-7 7.9)"><text x="0" y="0" font-size="24" style="stroke:#111;stroke-width:0.8">=</text></g>
<text x="188.7" y="1374.7" font-size="24">0.33</text>
<text x="324.8" y="1372.2" font-size="24" font-style="italic">y</text>
<g transform="translate(350.8 1366) scale(0.93 0.7) translate(-7 7.9)"><text x="0" y="0" font-size="24" style="stroke:#111;stroke-width:0.8">=</text></g>
<text x="362.9" y="1372.2" font-size="24">0.36</text>
<text x="411.3" y="1372.2" font-size="24" font-style="italic">x</text>
<text x="425.8" y="1360" font-size="14">0.75</text>
</g>
<g>
<rect x="547.9" y="1102.7" width="331.5" height="34.7" fill="#f2f2f2" stroke="#111" stroke-width="1.7"/>
<text x="713.6" y="1126.6" font-size="24" text-anchor="middle">aculeate wasp biomass</text>
<rect x="547.9" y="1137.4" width="331.5" height="243.4" fill="none" stroke="#111" stroke-width="1.7"/>
<text x="526.4" y="1174.3" font-size="24" text-anchor="end">10<tspan font-size="14" dy="-12.2">0</tspan></text>
<text x="526.4" y="1278.6" font-size="24" text-anchor="end">10<tspan font-size="14" dy="-12.2">−2</tspan></text>
<text x="526.4" y="1382.7" font-size="24" text-anchor="end">10<tspan font-size="14" dy="-12.2">−4</tspan></text>
<text x="618.6" y="1423.8" font-size="24" text-anchor="middle">10<tspan font-size="14" dy="-12.2">−1</tspan></text>
<text x="729.6" y="1423.8" font-size="24" text-anchor="middle">10<tspan font-size="14" dy="-12.2">−0.5</tspan></text>
<text x="841.3" y="1423.8" font-size="24" text-anchor="middle">10<tspan font-size="14" dy="-12.2">0</tspan></text>
<path d="M533.9 1163.3H547.9M533.9 1267.6H547.9M533.9 1371.7H547.9M618.6 1380.8V1394.8M729.6 1380.8V1394.8M841.3 1380.8V1394.8" stroke="#111" stroke-width="1.6" fill="none"/>
<path d="M586.1 1179.5m-7.8 0a7.8 7.8 0 1 0 15.6 0a7.8 7.8 0 1 0 -15.6 0M586.1 1189.4m-7.8 0a7.8 7.8 0 1 0 15.6 0a7.8 7.8 0 1 0 -15.6 0M586.1 1190.2m-7.8 0a7.8 7.8 0 1 0 15.6 0a7.8 7.8 0 1 0 -15.6 0M586.1 1205.4m-7.8 0a7.8 7.8 0 1 0 15.6 0a7.8 7.8 0 1 0 -15.6 0M586.1 1206.4m-7.8 0a7.8 7.8 0 1 0 15.6 0a7.8 7.8 0 1 0 -15.6 0M586.1 1220.7m-7.8 0a7.8 7.8 0 1 0 15.6 0a7.8 7.8 0 1 0 -15.6 0M586.1 1224.3m-7.8 0a7.8 7.8 0 1 0 15.6 0a7.8 7.8 0 1 0 -15.6 0M586.1 1228.3m-7.8 0a7.8 7.8 0 1 0 15.6 0a7.8 7.8 0 1 0 -15.6 0M586.1 1230.7m-7.8 0a7.8 7.8 0 1 0 15.6 0a7.8 7.8 0 1 0 -15.6 0M586.1 1259.6m-7.8 0a7.8 7.8 0 1 0 15.6 0a7.8 7.8 0 1 0 -15.6 0M586.1 1278.2m-7.8 0a7.8 7.8 0 1 0 15.6 0a7.8 7.8 0 1 0 -15.6 0M586.1 1294.5m-7.8 0a7.8 7.8 0 1 0 15.6 0a7.8 7.8 0 1 0 -15.6 0M586.1 1297.5m-7.8 0a7.8 7.8 0 1 0 15.6 0a7.8 7.8 0 1 0 -15.6 0M586.1 1337m-7.8 0a7.8 7.8 0 1 0 15.6 0a7.8 7.8 0 1 0 -15.6 0M653.1 1196.4m-7.8 0a7.8 7.8 0 1 0 15.6 0a7.8 7.8 0 1 0 -15.6 0M653.1 1202.4m-7.8 0a7.8 7.8 0 1 0 15.6 0a7.8 7.8 0 1 0 -15.6 0M653.1 1275.6m-7.8 0a7.8 7.8 0 1 0 15.6 0a7.8 7.8 0 1 0 -15.6 0M653.1 1287.5m-7.8 0a7.8 7.8 0 1 0 15.6 0a7.8 7.8 0 1 0 -15.6 0M692.3 1201.2m-7.8 0a7.8 7.8 0 1 0 15.6 0a7.8 7.8 0 1 0 -15.6 0M692.3 1207.8m-7.8 0a7.8 7.8 0 1 0 15.6 0a7.8 7.8 0 1 0 -15.6 0M692.3 1234.7m-7.8 0a7.8 7.8 0 1 0 15.6 0a7.8 7.8 0 1 0 -15.6 0M720.3 1184.4m-7.8 0a7.8 7.8 0 1 0 15.6 0a7.8 7.8 0 1 0 -15.6 0M720.3 1201.8m-7.8 0a7.8 7.8 0 1 0 15.6 0a7.8 7.8 0 1 0 -15.6 0M720.3 1226.7m-7.8 0a7.8 7.8 0 1 0 15.6 0a7.8 7.8 0 1 0 -15.6 0M720.3 1240.1m-7.8 0a7.8 7.8 0 1 0 15.6 0a7.8 7.8 0 1 0 -15.6 0M741.6 1192.8m-7.8 0a7.8 7.8 0 1 0 15.6 0a7.8 7.8 0 1 0 -15.6 0M741.6 1220.1m-7.8 0a7.8 7.8 0 1 0 15.6 0a7.8 7.8 0 1 0 -15.6 0M774.1 1178.5m-7.8 0a7.8 7.8 0 1 0 15.6 0a7.8 7.8 0 1 0 -15.6 0M774.1 1187.4m-7.8 0a7.8 7.8 0 1 0 15.6 0a7.8 7.8 0 1 0 -15.6 0M774.1 1192.8m-7.8 0a7.8 7.8 0 1 0 15.6 0a7.8 7.8 0 1 0 -15.6 0M787.1 1210.8m-7.8 0a7.8 7.8 0 1 0 15.6 0a7.8 7.8 0 1 0 -15.6 0M798 1169.9m-7.8 0a7.8 7.8 0 1 0 15.6 0a7.8 7.8 0 1 0 -15.6 0M798 1189.4m-7.8 0a7.8 7.8 0 1 0 15.6 0a7.8 7.8 0 1 0 -15.6 0M798 1202.4m-7.8 0a7.8 7.8 0 1 0 15.6 0a7.8 7.8 0 1 0 -15.6 0M809 1170.9m-7.8 0a7.8 7.8 0 1 0 15.6 0a7.8 7.8 0 1 0 -15.6 0M809 1183.8m-7.8 0a7.8 7.8 0 1 0 15.6 0a7.8 7.8 0 1 0 -15.6 0M809 1187.2m-7.8 0a7.8 7.8 0 1 0 15.6 0a7.8 7.8 0 1 0 -15.6 0M818 1162.9m-7.8 0a7.8 7.8 0 1 0 15.6 0a7.8 7.8 0 1 0 -15.6 0M818 1175.9m-7.8 0a7.8 7.8 0 1 0 15.6 0a7.8 7.8 0 1 0 -15.6 0M833.9 1192.8m-7.8 0a7.8 7.8 0 1 0 15.6 0a7.8 7.8 0 1 0 -15.6 0M841.3 1192.4m-7.8 0a7.8 7.8 0 1 0 15.6 0a7.8 7.8 0 1 0 -15.6 0" stroke="#111" stroke-width="1.65" fill="none"/>
<line x1="585.3" y1="1244.3" x2="842.5" y2="1177.9" stroke="#111" stroke-width="4.9" stroke-linecap="round"/>
<text x="561.5" y="1374.7" font-size="24" font-style="italic">r</text>
<text x="570" y="1362.8" font-size="14">2</text>
<g transform="translate(590.9 1368.5) scale(0.93 0.7) translate(-7 7.9)"><text x="0" y="0" font-size="24" style="stroke:#111;stroke-width:0.8">=</text></g>
<text x="602.6" y="1374.7" font-size="24">0.36</text>
<text x="746.5" y="1372.2" font-size="24" font-style="italic">y</text>
<g transform="translate(772.6 1366) scale(0.93 0.7) translate(-7 7.9)"><text x="0" y="0" font-size="24" style="stroke:#111;stroke-width:0.8">=</text></g>
<text x="784.7" y="1372.2" font-size="24">0.52</text>
<text x="833.1" y="1372.2" font-size="24" font-style="italic">x</text>
<text x="847.6" y="1360" font-size="14">1.1</text>
</g>
<g>
<rect x="961.6" y="1102.7" width="331.5" height="34.7" fill="#f2f2f2" stroke="#111" stroke-width="1.7"/>
<text x="1127.3" y="1126.6" font-size="24" text-anchor="middle">parasitoid wasp biomass</text>
<rect x="961.6" y="1137.4" width="331.5" height="243.4" fill="none" stroke="#111" stroke-width="1.7"/>
<text x="940.1" y="1174.3" font-size="24" text-anchor="end">10<tspan font-size="14" dy="-12.2">0</tspan></text>
<text x="940.1" y="1265.6" font-size="24" text-anchor="end">10<tspan font-size="14" dy="-12.2">−1</tspan></text>
<text x="940.1" y="1357" font-size="24" text-anchor="end">10<tspan font-size="14" dy="-12.2">−2</tspan></text>
<text x="969.4" y="1423.8" font-size="24" text-anchor="middle">10<tspan font-size="14" dy="-12.2">−2</tspan></text>
<text x="1111.7" y="1423.8" font-size="24" text-anchor="middle">10<tspan font-size="14" dy="-12.2">−1</tspan></text>
<text x="1254.9" y="1423.8" font-size="24" text-anchor="middle">10<tspan font-size="14" dy="-12.2">0</tspan></text>
<path d="M947.6 1163.3H961.6M947.6 1254.6H961.6M947.6 1346H961.6M969.4 1380.8V1394.8M1111.7 1380.8V1394.8M1254.9 1380.8V1394.8" stroke="#111" stroke-width="1.6" fill="none"/>
<path d="M999.7 1284.6m-7.8 0a7.8 7.8 0 1 0 15.6 0a7.8 7.8 0 1 0 -15.6 0M999.7 1302.5m-7.8 0a7.8 7.8 0 1 0 15.6 0a7.8 7.8 0 1 0 -15.6 0M1042.9 1261.6m-7.8 0a7.8 7.8 0 1 0 15.6 0a7.8 7.8 0 1 0 -15.6 0M1042.9 1288.5m-7.8 0a7.8 7.8 0 1 0 15.6 0a7.8 7.8 0 1 0 -15.6 0M1042.9 1320.4m-7.8 0a7.8 7.8 0 1 0 15.6 0a7.8 7.8 0 1 0 -15.6 0M1042.9 1336.8m-7.8 0a7.8 7.8 0 1 0 15.6 0a7.8 7.8 0 1 0 -15.6 0M1068.1 1163.3m-7.8 0a7.8 7.8 0 1 0 15.6 0a7.8 7.8 0 1 0 -15.6 0M1068.1 1283.6m-7.8 0a7.8 7.8 0 1 0 15.6 0a7.8 7.8 0 1 0 -15.6 0M1085.8 1254m-7.8 0a7.8 7.8 0 1 0 15.6 0a7.8 7.8 0 1 0 -15.6 0M1085.8 1276m-7.8 0a7.8 7.8 0 1 0 15.6 0a7.8 7.8 0 1 0 -15.6 0M1085.8 1336.8m-7.8 0a7.8 7.8 0 1 0 15.6 0a7.8 7.8 0 1 0 -15.6 0M1100 1241.7m-7.8 0a7.8 7.8 0 1 0 15.6 0a7.8 7.8 0 1 0 -15.6 0M1100 1251.6m-7.8 0a7.8 7.8 0 1 0 15.6 0a7.8 7.8 0 1 0 -15.6 0M1100 1298.5m-7.8 0a7.8 7.8 0 1 0 15.6 0a7.8 7.8 0 1 0 -15.6 0M1111.3 1199.8m-7.8 0a7.8 7.8 0 1 0 15.6 0a7.8 7.8 0 1 0 -15.6 0M1111.3 1227.7m-7.8 0a7.8 7.8 0 1 0 15.6 0a7.8 7.8 0 1 0 -15.6 0M1111.3 1249.7m-7.8 0a7.8 7.8 0 1 0 15.6 0a7.8 7.8 0 1 0 -15.6 0M1111.3 1273.6m-7.8 0a7.8 7.8 0 1 0 15.6 0a7.8 7.8 0 1 0 -15.6 0M1111.3 1290.5m-7.8 0a7.8 7.8 0 1 0 15.6 0a7.8 7.8 0 1 0 -15.6 0M1120.7 1213.2m-7.8 0a7.8 7.8 0 1 0 15.6 0a7.8 7.8 0 1 0 -15.6 0M1120.7 1257.6m-7.8 0a7.8 7.8 0 1 0 15.6 0a7.8 7.8 0 1 0 -15.6 0M1128.9 1248.3m-7.8 0a7.8 7.8 0 1 0 15.6 0a7.8 7.8 0 1 0 -15.6 0M1136.3 1235.7m-7.8 0a7.8 7.8 0 1 0 15.6 0a7.8 7.8 0 1 0 -15.6 0M1136.3 1261m-7.8 0a7.8 7.8 0 1 0 15.6 0a7.8 7.8 0 1 0 -15.6 0M1136.3 1278m-7.8 0a7.8 7.8 0 1 0 15.6 0a7.8 7.8 0 1 0 -15.6 0M1148.2 1252.6m-7.8 0a7.8 7.8 0 1 0 15.6 0a7.8 7.8 0 1 0 -15.6 0M1154.2 1247.7m-7.8 0a7.8 7.8 0 1 0 15.6 0a7.8 7.8 0 1 0 -15.6 0M1159.2 1203.8m-7.8 0a7.8 7.8 0 1 0 15.6 0a7.8 7.8 0 1 0 -15.6 0M1159.2 1229.7m-7.8 0a7.8 7.8 0 1 0 15.6 0a7.8 7.8 0 1 0 -15.6 0M1163.2 1212.8m-7.8 0a7.8 7.8 0 1 0 15.6 0a7.8 7.8 0 1 0 -15.6 0M1167.2 1221.7m-7.8 0a7.8 7.8 0 1 0 15.6 0a7.8 7.8 0 1 0 -15.6 0M1167.2 1236.7m-7.8 0a7.8 7.8 0 1 0 15.6 0a7.8 7.8 0 1 0 -15.6 0M1171.2 1174.9m-7.8 0a7.8 7.8 0 1 0 15.6 0a7.8 7.8 0 1 0 -15.6 0M1172.2 1211.8m-7.8 0a7.8 7.8 0 1 0 15.6 0a7.8 7.8 0 1 0 -15.6 0M1175.1 1191.8m-7.8 0a7.8 7.8 0 1 0 15.6 0a7.8 7.8 0 1 0 -15.6 0M1174.2 1234.7m-7.8 0a7.8 7.8 0 1 0 15.6 0a7.8 7.8 0 1 0 -15.6 0M1179.1 1239.7m-7.8 0a7.8 7.8 0 1 0 15.6 0a7.8 7.8 0 1 0 -15.6 0M1182.1 1239.7m-7.8 0a7.8 7.8 0 1 0 15.6 0a7.8 7.8 0 1 0 -15.6 0M1187.1 1226.7m-7.8 0a7.8 7.8 0 1 0 15.6 0a7.8 7.8 0 1 0 -15.6 0M1192.1 1236.7m-7.8 0a7.8 7.8 0 1 0 15.6 0a7.8 7.8 0 1 0 -15.6 0M1194.1 1216.7m-7.8 0a7.8 7.8 0 1 0 15.6 0a7.8 7.8 0 1 0 -15.6 0M1199.1 1180.9m-7.8 0a7.8 7.8 0 1 0 15.6 0a7.8 7.8 0 1 0 -15.6 0M1199.1 1193.8m-7.8 0a7.8 7.8 0 1 0 15.6 0a7.8 7.8 0 1 0 -15.6 0M1200.1 1200.8m-7.8 0a7.8 7.8 0 1 0 15.6 0a7.8 7.8 0 1 0 -15.6 0M1200.1 1226.7m-7.8 0a7.8 7.8 0 1 0 15.6 0a7.8 7.8 0 1 0 -15.6 0M1203.1 1229.7m-7.8 0a7.8 7.8 0 1 0 15.6 0a7.8 7.8 0 1 0 -15.6 0M1211 1192.8m-7.8 0a7.8 7.8 0 1 0 15.6 0a7.8 7.8 0 1 0 -15.6 0M1214 1190.8m-7.8 0a7.8 7.8 0 1 0 15.6 0a7.8 7.8 0 1 0 -15.6 0M1227 1183.2m-7.8 0a7.8 7.8 0 1 0 15.6 0a7.8 7.8 0 1 0 -15.6 0M1233 1178.9m-7.8 0a7.8 7.8 0 1 0 15.6 0a7.8 7.8 0 1 0 -15.6 0M1235 1187.8m-7.8 0a7.8 7.8 0 1 0 15.6 0a7.8 7.8 0 1 0 -15.6 0M1233 1201.8m-7.8 0a7.8 7.8 0 1 0 15.6 0a7.8 7.8 0 1 0 -15.6 0M1246.9 1172.9m-7.8 0a7.8 7.8 0 1 0 15.6 0a7.8 7.8 0 1 0 -15.6 0M1255.9 1174.9m-7.8 0a7.8 7.8 0 1 0 15.6 0a7.8 7.8 0 1 0 -15.6 0" stroke="#111" stroke-width="1.65" fill="none"/>
<line x1="999.3" y1="1310.1" x2="1256.5" y2="1180.9" stroke="#111" stroke-width="4.9" stroke-linecap="round"/>
<text x="975.2" y="1374.7" font-size="24" font-style="italic">r</text>
<text x="983.7" y="1362.8" font-size="14">2</text>
<g transform="translate(1004.6 1368.5) scale(0.93 0.7) translate(-7 7.9)"><text x="0" y="0" font-size="24" style="stroke:#111;stroke-width:0.8">=</text></g>
<text x="1016.3" y="1374.7" font-size="24">0.57</text>
<text x="1152.4" y="1372.2" font-size="24" font-style="italic">y</text>
<g transform="translate(1178.5 1366) scale(0.93 0.7) translate(-7 7.9)"><text x="0" y="0" font-size="24" style="stroke:#111;stroke-width:0.8">=</text></g>
<text x="1190.6" y="1372.2" font-size="24">0.65</text>
<text x="1239" y="1372.2" font-size="24" font-style="italic">x</text>
<text x="1253.5" y="1360" font-size="14">0.79</text>
</g>
<g>
<rect x="1375.3" y="1102.7" width="331.5" height="34.7" fill="#f2f2f2" stroke="#111" stroke-width="1.7"/>
<text x="1541" y="1126.6" font-size="24" text-anchor="middle">dung beetle biomass</text>
<rect x="1375.3" y="1137.4" width="331.5" height="243.4" fill="none" stroke="#111" stroke-width="1.7"/>
<text x="1353.8" y="1174.3" font-size="24" text-anchor="end">10<tspan font-size="14" dy="-12.2">0</tspan></text>
<text x="1353.8" y="1243.7" font-size="24" text-anchor="end">10<tspan font-size="14" dy="-12.2">−1</tspan></text>
<text x="1353.8" y="1312.7" font-size="24" text-anchor="end">10<tspan font-size="14" dy="-12.2">−2</tspan></text>
<text x="1353.8" y="1381.7" font-size="24" text-anchor="end">10<tspan font-size="14" dy="-12.2">−3</tspan></text>
<text x="1490.4" y="1423.8" font-size="24" text-anchor="middle">10<tspan font-size="14" dy="-12.2">−1</tspan></text>
<text x="1668.9" y="1423.8" font-size="24" text-anchor="middle">10<tspan font-size="14" dy="-12.2">0</tspan></text>
<path d="M1361.3 1163.3H1375.3M1361.3 1232.7H1375.3M1361.3 1301.7H1375.3M1361.3 1370.7H1375.3M1490.4 1380.8V1394.8M1668.9 1380.8V1394.8" stroke="#111" stroke-width="1.6" fill="none"/>
<path d="M1413.7 1274m-7.8 0a7.8 7.8 0 1 0 15.6 0a7.8 7.8 0 1 0 -15.6 0M1413.7 1335.4m-7.8 0a7.8 7.8 0 1 0 15.6 0a7.8 7.8 0 1 0 -15.6 0M1413.7 1336.4m-7.8 0a7.8 7.8 0 1 0 15.6 0a7.8 7.8 0 1 0 -15.6 0M1467.1 1293.5m-7.8 0a7.8 7.8 0 1 0 15.6 0a7.8 7.8 0 1 0 -15.6 0M1467.1 1324m-7.8 0a7.8 7.8 0 1 0 15.6 0a7.8 7.8 0 1 0 -15.6 0M1498.8 1247.7m-7.8 0a7.8 7.8 0 1 0 15.6 0a7.8 7.8 0 1 0 -15.6 0M1498.8 1252.6m-7.8 0a7.8 7.8 0 1 0 15.6 0a7.8 7.8 0 1 0 -15.6 0M1498.8 1328.4m-7.8 0a7.8 7.8 0 1 0 15.6 0a7.8 7.8 0 1 0 -15.6 0M1520.9 1216.7m-7.8 0a7.8 7.8 0 1 0 15.6 0a7.8 7.8 0 1 0 -15.6 0M1520.9 1222.7m-7.8 0a7.8 7.8 0 1 0 15.6 0a7.8 7.8 0 1 0 -15.6 0M1520.9 1337.4m-7.8 0a7.8 7.8 0 1 0 15.6 0a7.8 7.8 0 1 0 -15.6 0M1538.3 1208.4m-7.8 0a7.8 7.8 0 1 0 15.6 0a7.8 7.8 0 1 0 -15.6 0M1538.3 1209.8m-7.8 0a7.8 7.8 0 1 0 15.6 0a7.8 7.8 0 1 0 -15.6 0M1538.3 1211.8m-7.8 0a7.8 7.8 0 1 0 15.6 0a7.8 7.8 0 1 0 -15.6 0M1538.3 1245.7m-7.8 0a7.8 7.8 0 1 0 15.6 0a7.8 7.8 0 1 0 -15.6 0M1538.3 1247.7m-7.8 0a7.8 7.8 0 1 0 15.6 0a7.8 7.8 0 1 0 -15.6 0M1538.3 1283.6m-7.8 0a7.8 7.8 0 1 0 15.6 0a7.8 7.8 0 1 0 -15.6 0M1538.3 1286.5m-7.8 0a7.8 7.8 0 1 0 15.6 0a7.8 7.8 0 1 0 -15.6 0M1552.3 1237.1m-7.8 0a7.8 7.8 0 1 0 15.6 0a7.8 7.8 0 1 0 -15.6 0M1564.2 1188.8m-7.8 0a7.8 7.8 0 1 0 15.6 0a7.8 7.8 0 1 0 -15.6 0M1564.2 1225.7m-7.8 0a7.8 7.8 0 1 0 15.6 0a7.8 7.8 0 1 0 -15.6 0M1564.2 1250.3m-7.8 0a7.8 7.8 0 1 0 15.6 0a7.8 7.8 0 1 0 -15.6 0M1574.6 1258.2m-7.8 0a7.8 7.8 0 1 0 15.6 0a7.8 7.8 0 1 0 -15.6 0M1583.6 1163.3m-7.8 0a7.8 7.8 0 1 0 15.6 0a7.8 7.8 0 1 0 -15.6 0M1599.1 1183.8m-7.8 0a7.8 7.8 0 1 0 15.6 0a7.8 7.8 0 1 0 -15.6 0M1617.5 1194.4m-7.8 0a7.8 7.8 0 1 0 15.6 0a7.8 7.8 0 1 0 -15.6 0M1633 1190.4m-7.8 0a7.8 7.8 0 1 0 15.6 0a7.8 7.8 0 1 0 -15.6 0M1633 1225.7m-7.8 0a7.8 7.8 0 1 0 15.6 0a7.8 7.8 0 1 0 -15.6 0M1637 1193.2m-7.8 0a7.8 7.8 0 1 0 15.6 0a7.8 7.8 0 1 0 -15.6 0M1645.4 1201.2m-7.8 0a7.8 7.8 0 1 0 15.6 0a7.8 7.8 0 1 0 -15.6 0M1650 1187.8m-7.8 0a7.8 7.8 0 1 0 15.6 0a7.8 7.8 0 1 0 -15.6 0M1668.9 1199.8m-7.8 0a7.8 7.8 0 1 0 15.6 0a7.8 7.8 0 1 0 -15.6 0" stroke="#111" stroke-width="1.65" fill="none"/>
<line x1="1413.3" y1="1317.5" x2="1669.9" y2="1173.9" stroke="#111" stroke-width="4.9" stroke-linecap="round"/>
<text x="1388.9" y="1374.7" font-size="24" font-style="italic">r</text>
<text x="1397.4" y="1362.8" font-size="14">2</text>
<g transform="translate(1418.3 1368.5) scale(0.93 0.7) translate(-7 7.9)"><text x="0" y="0" font-size="24" style="stroke:#111;stroke-width:0.8">=</text></g>
<text x="1430" y="1374.7" font-size="24">0.58</text>
<text x="1587.2" y="1372.2" font-size="24" font-style="italic">y</text>
<g transform="translate(1613.3 1366) scale(0.93 0.7) translate(-7 7.9)"><text x="0" y="0" font-size="24" style="stroke:#111;stroke-width:0.8">=</text></g>
<text x="1625.4" y="1372.2" font-size="24">0.7</text>
<text x="1660.4" y="1372.2" font-size="24" font-style="italic">x</text>
<text x="1674.9" y="1360" font-size="14">1.5</text>
</g>
<g>
<rect x="1789" y="1102.7" width="331.5" height="34.7" fill="#f2f2f2" stroke="#111" stroke-width="1.7"/>
<text x="1954.8" y="1126.6" font-size="24" text-anchor="middle">moth biomass</text>
<rect x="1789" y="1137.4" width="331.5" height="243.4" fill="none" stroke="#111" stroke-width="1.7"/>
<text x="1767.5" y="1174.3" font-size="24" text-anchor="end">10<tspan font-size="14" dy="-12.2">0</tspan></text>
<text x="1767.5" y="1290.6" font-size="24" text-anchor="end">10<tspan font-size="14" dy="-12.2">−2</tspan></text>
<text x="1799.1" y="1423.8" font-size="24" text-anchor="middle">10<tspan font-size="14" dy="-12.2">−2</tspan></text>
<text x="1940.9" y="1423.8" font-size="24" text-anchor="middle">10<tspan font-size="14" dy="-12.2">−1</tspan></text>
<text x="2082.9" y="1423.8" font-size="24" text-anchor="middle">10<tspan font-size="14" dy="-12.2">0</tspan></text>
<path d="M1775 1163.3H1789M1775 1279.6H1789M1799.1 1380.8V1394.8M1940.9 1380.8V1394.8M2082.9 1380.8V1394.8" stroke="#111" stroke-width="1.6" fill="none"/>
<path d="M1827.7 1307.5m-7.8 0a7.8 7.8 0 1 0 15.6 0a7.8 7.8 0 1 0 -15.6 0M1827.7 1326.8m-7.8 0a7.8 7.8 0 1 0 15.6 0a7.8 7.8 0 1 0 -15.6 0M1827.7 1337m-7.8 0a7.8 7.8 0 1 0 15.6 0a7.8 7.8 0 1 0 -15.6 0M1869.9 1247.7m-7.8 0a7.8 7.8 0 1 0 15.6 0a7.8 7.8 0 1 0 -15.6 0M1869.9 1256.6m-7.8 0a7.8 7.8 0 1 0 15.6 0a7.8 7.8 0 1 0 -15.6 0M1869.9 1260.6m-7.8 0a7.8 7.8 0 1 0 15.6 0a7.8 7.8 0 1 0 -15.6 0M1869.9 1264.6m-7.8 0a7.8 7.8 0 1 0 15.6 0a7.8 7.8 0 1 0 -15.6 0M1869.9 1268.2m-7.8 0a7.8 7.8 0 1 0 15.6 0a7.8 7.8 0 1 0 -15.6 0M1869.9 1270.6m-7.8 0a7.8 7.8 0 1 0 15.6 0a7.8 7.8 0 1 0 -15.6 0M1869.9 1271.6m-7.8 0a7.8 7.8 0 1 0 15.6 0a7.8 7.8 0 1 0 -15.6 0M1895.1 1227.7m-7.8 0a7.8 7.8 0 1 0 15.6 0a7.8 7.8 0 1 0 -15.6 0M1895.1 1238.7m-7.8 0a7.8 7.8 0 1 0 15.6 0a7.8 7.8 0 1 0 -15.6 0M1912.4 1234.3m-7.8 0a7.8 7.8 0 1 0 15.6 0a7.8 7.8 0 1 0 -15.6 0M1926.4 1220.3m-7.8 0a7.8 7.8 0 1 0 15.6 0a7.8 7.8 0 1 0 -15.6 0M1926.4 1222.7m-7.8 0a7.8 7.8 0 1 0 15.6 0a7.8 7.8 0 1 0 -15.6 0M1926.4 1236.7m-7.8 0a7.8 7.8 0 1 0 15.6 0a7.8 7.8 0 1 0 -15.6 0M1938.3 1216.7m-7.8 0a7.8 7.8 0 1 0 15.6 0a7.8 7.8 0 1 0 -15.6 0M1938.3 1233.7m-7.8 0a7.8 7.8 0 1 0 15.6 0a7.8 7.8 0 1 0 -15.6 0M1947.3 1207.8m-7.8 0a7.8 7.8 0 1 0 15.6 0a7.8 7.8 0 1 0 -15.6 0M1947.3 1228.7m-7.8 0a7.8 7.8 0 1 0 15.6 0a7.8 7.8 0 1 0 -15.6 0M1954.3 1216.7m-7.8 0a7.8 7.8 0 1 0 15.6 0a7.8 7.8 0 1 0 -15.6 0M1955.3 1239.7m-7.8 0a7.8 7.8 0 1 0 15.6 0a7.8 7.8 0 1 0 -15.6 0M1963.3 1243.7m-7.8 0a7.8 7.8 0 1 0 15.6 0a7.8 7.8 0 1 0 -15.6 0M1963.7 1226.7m-7.8 0a7.8 7.8 0 1 0 15.6 0a7.8 7.8 0 1 0 -15.6 0M1969.2 1214.8m-7.8 0a7.8 7.8 0 1 0 15.6 0a7.8 7.8 0 1 0 -15.6 0M1970.2 1233.1m-7.8 0a7.8 7.8 0 1 0 15.6 0a7.8 7.8 0 1 0 -15.6 0M1975.2 1216.7m-7.8 0a7.8 7.8 0 1 0 15.6 0a7.8 7.8 0 1 0 -15.6 0M1975.6 1243.1m-7.8 0a7.8 7.8 0 1 0 15.6 0a7.8 7.8 0 1 0 -15.6 0M1985.2 1191.8m-7.8 0a7.8 7.8 0 1 0 15.6 0a7.8 7.8 0 1 0 -15.6 0M1985.2 1201.8m-7.8 0a7.8 7.8 0 1 0 15.6 0a7.8 7.8 0 1 0 -15.6 0M1986.2 1224.7m-7.8 0a7.8 7.8 0 1 0 15.6 0a7.8 7.8 0 1 0 -15.6 0M1986.2 1233.7m-7.8 0a7.8 7.8 0 1 0 15.6 0a7.8 7.8 0 1 0 -15.6 0M1995.2 1218.7m-7.8 0a7.8 7.8 0 1 0 15.6 0a7.8 7.8 0 1 0 -15.6 0M1998.2 1191.8m-7.8 0a7.8 7.8 0 1 0 15.6 0a7.8 7.8 0 1 0 -15.6 0M1999.2 1196.8m-7.8 0a7.8 7.8 0 1 0 15.6 0a7.8 7.8 0 1 0 -15.6 0M2000.2 1204.8m-7.8 0a7.8 7.8 0 1 0 15.6 0a7.8 7.8 0 1 0 -15.6 0M2001.2 1210.8m-7.8 0a7.8 7.8 0 1 0 15.6 0a7.8 7.8 0 1 0 -15.6 0M2002.2 1212.8m-7.8 0a7.8 7.8 0 1 0 15.6 0a7.8 7.8 0 1 0 -15.6 0M1999.2 1218.7m-7.8 0a7.8 7.8 0 1 0 15.6 0a7.8 7.8 0 1 0 -15.6 0M2006.1 1222.7m-7.8 0a7.8 7.8 0 1 0 15.6 0a7.8 7.8 0 1 0 -15.6 0M2008.7 1239.7m-7.8 0a7.8 7.8 0 1 0 15.6 0a7.8 7.8 0 1 0 -15.6 0M2005.1 1175.3m-7.8 0a7.8 7.8 0 1 0 15.6 0a7.8 7.8 0 1 0 -15.6 0M2020.1 1183.8m-7.8 0a7.8 7.8 0 1 0 15.6 0a7.8 7.8 0 1 0 -15.6 0M2025.1 1173.3m-7.8 0a7.8 7.8 0 1 0 15.6 0a7.8 7.8 0 1 0 -15.6 0M2027.1 1175.3m-7.8 0a7.8 7.8 0 1 0 15.6 0a7.8 7.8 0 1 0 -15.6 0M2023.1 1216.7m-7.8 0a7.8 7.8 0 1 0 15.6 0a7.8 7.8 0 1 0 -15.6 0M2037.4 1187.8m-7.8 0a7.8 7.8 0 1 0 15.6 0a7.8 7.8 0 1 0 -15.6 0M2042.6 1179.9m-7.8 0a7.8 7.8 0 1 0 15.6 0a7.8 7.8 0 1 0 -15.6 0M2042.6 1208.8m-7.8 0a7.8 7.8 0 1 0 15.6 0a7.8 7.8 0 1 0 -15.6 0M2053 1171.3m-7.8 0a7.8 7.8 0 1 0 15.6 0a7.8 7.8 0 1 0 -15.6 0M2056 1192.4m-7.8 0a7.8 7.8 0 1 0 15.6 0a7.8 7.8 0 1 0 -15.6 0M2075.9 1162.9m-7.8 0a7.8 7.8 0 1 0 15.6 0a7.8 7.8 0 1 0 -15.6 0M2082.9 1185.2m-7.8 0a7.8 7.8 0 1 0 15.6 0a7.8 7.8 0 1 0 -15.6 0" stroke="#111" stroke-width="1.65" fill="none"/>
<line x1="1826.7" y1="1290.5" x2="2083.9" y2="1166.9" stroke="#111" stroke-width="4.9" stroke-linecap="round"/>
<text x="1802.6" y="1374.7" font-size="24" font-style="italic">r</text>
<text x="1811.1" y="1362.8" font-size="14">2</text>
<g transform="translate(1832 1368.5) scale(0.93 0.7) translate(-7 7.9)"><text x="0" y="0" font-size="24" style="stroke:#111;stroke-width:0.8">=</text></g>
<text x="1843.7" y="1374.7" font-size="24">0.75</text>
<text x="1987.7" y="1372.2" font-size="24" font-style="italic">y</text>
<g transform="translate(2013.7 1366) scale(0.93 0.7) translate(-7 7.9)"><text x="0" y="0" font-size="24" style="stroke:#111;stroke-width:0.8">=</text></g>
<text x="2025.8" y="1372.2" font-size="24">0.87</text>
<text x="2074.2" y="1372.2" font-size="24" font-style="italic">x</text>
<text x="2088.7" y="1360" font-size="14">1.2</text>
</g>
<g>
<rect x="134" y="1470" width="331.5" height="34.7" fill="#f2f2f2" stroke="#111" stroke-width="1.7"/>
<text x="299.8" y="1493.9" font-size="24" text-anchor="middle">ant biomass</text>
<rect x="134" y="1504.7" width="331.5" height="243.4" fill="none" stroke="#111" stroke-width="1.7"/>
<text x="112.5" y="1541.9" font-size="24" text-anchor="end">10<tspan font-size="14" dy="-12.2">0</tspan></text>
<text x="112.5" y="1633.2" font-size="24" text-anchor="end">10<tspan font-size="14" dy="-12.2">−2</tspan></text>
<text x="112.5" y="1724.8" font-size="24" text-anchor="end">10<tspan font-size="14" dy="-12.2">−4</tspan></text>
<text x="191" y="1791.1" font-size="24" text-anchor="middle">10<tspan font-size="14" dy="-12.2">−1</tspan></text>
<text x="308.9" y="1791.1" font-size="24" text-anchor="middle">10<tspan font-size="14" dy="-12.2">−0.5</tspan></text>
<text x="427.3" y="1791.1" font-size="24" text-anchor="middle">10<tspan font-size="14" dy="-12.2">0</tspan></text>
<path d="M120 1530.9H134M120 1622.2H134M120 1713.8H134M191 1748.1V1762.1M308.9 1748.1V1762.1M427.3 1748.1V1762.1" stroke="#111" stroke-width="1.6" fill="none"/>
<path d="M172.1 1624.6m-7.8 0a7.8 7.8 0 1 0 15.6 0a7.8 7.8 0 1 0 -15.6 0M172.1 1704.4m-7.8 0a7.8 7.8 0 1 0 15.6 0a7.8 7.8 0 1 0 -15.6 0M243.5 1609.7m-7.8 0a7.8 7.8 0 1 0 15.6 0a7.8 7.8 0 1 0 -15.6 0M243.5 1641.2m-7.8 0a7.8 7.8 0 1 0 15.6 0a7.8 7.8 0 1 0 -15.6 0M243.5 1655.1m-7.8 0a7.8 7.8 0 1 0 15.6 0a7.8 7.8 0 1 0 -15.6 0M243.5 1685.5m-7.8 0a7.8 7.8 0 1 0 15.6 0a7.8 7.8 0 1 0 -15.6 0M284.9 1565.8m-7.8 0a7.8 7.8 0 1 0 15.6 0a7.8 7.8 0 1 0 -15.6 0M284.9 1618.6m-7.8 0a7.8 7.8 0 1 0 15.6 0a7.8 7.8 0 1 0 -15.6 0M284.9 1621.6m-7.8 0a7.8 7.8 0 1 0 15.6 0a7.8 7.8 0 1 0 -15.6 0M284.9 1638.6m-7.8 0a7.8 7.8 0 1 0 15.6 0a7.8 7.8 0 1 0 -15.6 0M284.9 1641.6m-7.8 0a7.8 7.8 0 1 0 15.6 0a7.8 7.8 0 1 0 -15.6 0M284.9 1645.6m-7.8 0a7.8 7.8 0 1 0 15.6 0a7.8 7.8 0 1 0 -15.6 0M314.6 1564.4m-7.8 0a7.8 7.8 0 1 0 15.6 0a7.8 7.8 0 1 0 -15.6 0M314.6 1576.8m-7.8 0a7.8 7.8 0 1 0 15.6 0a7.8 7.8 0 1 0 -15.6 0M314.6 1584.1m-7.8 0a7.8 7.8 0 1 0 15.6 0a7.8 7.8 0 1 0 -15.6 0M337.2 1554.8m-7.8 0a7.8 7.8 0 1 0 15.6 0a7.8 7.8 0 1 0 -15.6 0M337.2 1615.3m-7.8 0a7.8 7.8 0 1 0 15.6 0a7.8 7.8 0 1 0 -15.6 0M356.1 1574.4m-7.8 0a7.8 7.8 0 1 0 15.6 0a7.8 7.8 0 1 0 -15.6 0M356.1 1578.8m-7.8 0a7.8 7.8 0 1 0 15.6 0a7.8 7.8 0 1 0 -15.6 0M371.7 1557.8m-7.8 0a7.8 7.8 0 1 0 15.6 0a7.8 7.8 0 1 0 -15.6 0M371.7 1562.8m-7.8 0a7.8 7.8 0 1 0 15.6 0a7.8 7.8 0 1 0 -15.6 0M371.7 1598.7m-7.8 0a7.8 7.8 0 1 0 15.6 0a7.8 7.8 0 1 0 -15.6 0M371.7 1610.7m-7.8 0a7.8 7.8 0 1 0 15.6 0a7.8 7.8 0 1 0 -15.6 0M371.7 1628.6m-7.8 0a7.8 7.8 0 1 0 15.6 0a7.8 7.8 0 1 0 -15.6 0M385.4 1530.9m-7.8 0a7.8 7.8 0 1 0 15.6 0a7.8 7.8 0 1 0 -15.6 0M385.4 1581.8m-7.8 0a7.8 7.8 0 1 0 15.6 0a7.8 7.8 0 1 0 -15.6 0M385.4 1588.1m-7.8 0a7.8 7.8 0 1 0 15.6 0a7.8 7.8 0 1 0 -15.6 0M398 1580.8m-7.8 0a7.8 7.8 0 1 0 15.6 0a7.8 7.8 0 1 0 -15.6 0M427.3 1531.9m-7.8 0a7.8 7.8 0 1 0 15.6 0a7.8 7.8 0 1 0 -15.6 0M427.3 1571.4m-7.8 0a7.8 7.8 0 1 0 15.6 0a7.8 7.8 0 1 0 -15.6 0" stroke="#111" stroke-width="1.65" fill="none"/>
<line x1="171.3" y1="1671.5" x2="427.9" y2="1552.2" stroke="#111" stroke-width="4.9" stroke-linecap="round"/>
<text x="147.6" y="1742" font-size="24" font-style="italic">r</text>
<text x="156.1" y="1730.1" font-size="14">2</text>
<g transform="translate(177 1735.8) scale(0.93 0.7) translate(-7 7.9)"><text x="0" y="0" font-size="24" style="stroke:#111;stroke-width:0.8">=</text></g>
<text x="188.7" y="1742" font-size="24">0.55</text>
<text x="332.4" y="1739.5" font-size="24" font-style="italic">y</text>
<g transform="translate(358.4 1733.3) scale(0.93 0.7) translate(-7 7.9)"><text x="0" y="0" font-size="24" style="stroke:#111;stroke-width:0.8">=</text></g>
<text x="370.5" y="1739.5" font-size="24">0.34</text>
<text x="418.9" y="1739.5" font-size="24" font-style="italic">x</text>
<text x="433.4" y="1727.3" font-size="14">2.4</text>
</g>
<g>
<rect x="547.9" y="1470" width="331.5" height="34.7" fill="#f2f2f2" stroke="#111" stroke-width="1.7"/>
<text x="713.6" y="1493.9" font-size="24" text-anchor="middle">springtail biomass</text>
<rect x="547.9" y="1504.7" width="331.5" height="243.4" fill="none" stroke="#111" stroke-width="1.7"/>
<text x="526.4" y="1541.9" font-size="24" text-anchor="end">10<tspan font-size="14" dy="-12.2">0</tspan></text>
<text x="526.4" y="1627.3" font-size="24" text-anchor="end">10<tspan font-size="14" dy="-12.2">−1</tspan></text>
<text x="526.4" y="1712.8" font-size="24" text-anchor="end">10<tspan font-size="14" dy="-12.2">−2</tspan></text>
<text x="684.4" y="1791.1" font-size="24" text-anchor="middle">10<tspan font-size="14" dy="-12.2">−0.5</tspan></text>
<text x="841.3" y="1791.1" font-size="24" text-anchor="middle">10<tspan font-size="14" dy="-12.2">0</tspan></text>
<path d="M533.9 1530.9H547.9M533.9 1616.3H547.9M533.9 1701.8H547.9M684.4 1748.1V1762.1M841.3 1748.1V1762.1" stroke="#111" stroke-width="1.6" fill="none"/>
<path d="M586.1 1552.8m-7.8 0a7.8 7.8 0 1 0 15.6 0a7.8 7.8 0 1 0 -15.6 0M586.1 1607.3m-7.8 0a7.8 7.8 0 1 0 15.6 0a7.8 7.8 0 1 0 -15.6 0M586.1 1615.7m-7.8 0a7.8 7.8 0 1 0 15.6 0a7.8 7.8 0 1 0 -15.6 0M586.1 1618m-7.8 0a7.8 7.8 0 1 0 15.6 0a7.8 7.8 0 1 0 -15.6 0M586.1 1624m-7.8 0a7.8 7.8 0 1 0 15.6 0a7.8 7.8 0 1 0 -15.6 0M586.1 1626.6m-7.8 0a7.8 7.8 0 1 0 15.6 0a7.8 7.8 0 1 0 -15.6 0M586.1 1642m-7.8 0a7.8 7.8 0 1 0 15.6 0a7.8 7.8 0 1 0 -15.6 0M586.1 1656.1m-7.8 0a7.8 7.8 0 1 0 15.6 0a7.8 7.8 0 1 0 -15.6 0M586.1 1669.9m-7.8 0a7.8 7.8 0 1 0 15.6 0a7.8 7.8 0 1 0 -15.6 0M586.1 1690.4m-7.8 0a7.8 7.8 0 1 0 15.6 0a7.8 7.8 0 1 0 -15.6 0M641.1 1557.4m-7.8 0a7.8 7.8 0 1 0 15.6 0a7.8 7.8 0 1 0 -15.6 0M641.1 1590.1m-7.8 0a7.8 7.8 0 1 0 15.6 0a7.8 7.8 0 1 0 -15.6 0M641.1 1607.3m-7.8 0a7.8 7.8 0 1 0 15.6 0a7.8 7.8 0 1 0 -15.6 0M641.1 1609.7m-7.8 0a7.8 7.8 0 1 0 15.6 0a7.8 7.8 0 1 0 -15.6 0M641.1 1612.1m-7.8 0a7.8 7.8 0 1 0 15.6 0a7.8 7.8 0 1 0 -15.6 0M641.1 1615.7m-7.8 0a7.8 7.8 0 1 0 15.6 0a7.8 7.8 0 1 0 -15.6 0M641.1 1618.6m-7.8 0a7.8 7.8 0 1 0 15.6 0a7.8 7.8 0 1 0 -15.6 0M641.1 1633.6m-7.8 0a7.8 7.8 0 1 0 15.6 0a7.8 7.8 0 1 0 -15.6 0M641.1 1636.6m-7.8 0a7.8 7.8 0 1 0 15.6 0a7.8 7.8 0 1 0 -15.6 0M641.1 1638.6m-7.8 0a7.8 7.8 0 1 0 15.6 0a7.8 7.8 0 1 0 -15.6 0M641.1 1689.4m-7.8 0a7.8 7.8 0 1 0 15.6 0a7.8 7.8 0 1 0 -15.6 0M641.1 1704.4m-7.8 0a7.8 7.8 0 1 0 15.6 0a7.8 7.8 0 1 0 -15.6 0M680.4 1550.4m-7.8 0a7.8 7.8 0 1 0 15.6 0a7.8 7.8 0 1 0 -15.6 0M680.4 1563.8m-7.8 0a7.8 7.8 0 1 0 15.6 0a7.8 7.8 0 1 0 -15.6 0M680.4 1574.8m-7.8 0a7.8 7.8 0 1 0 15.6 0a7.8 7.8 0 1 0 -15.6 0M680.4 1580.8m-7.8 0a7.8 7.8 0 1 0 15.6 0a7.8 7.8 0 1 0 -15.6 0M680.4 1595.7m-7.8 0a7.8 7.8 0 1 0 15.6 0a7.8 7.8 0 1 0 -15.6 0M680.4 1598.1m-7.8 0a7.8 7.8 0 1 0 15.6 0a7.8 7.8 0 1 0 -15.6 0M680.4 1613.3m-7.8 0a7.8 7.8 0 1 0 15.6 0a7.8 7.8 0 1 0 -15.6 0M680.4 1667.9m-7.8 0a7.8 7.8 0 1 0 15.6 0a7.8 7.8 0 1 0 -15.6 0M710.9 1555.8m-7.8 0a7.8 7.8 0 1 0 15.6 0a7.8 7.8 0 1 0 -15.6 0M710.9 1566.2m-7.8 0a7.8 7.8 0 1 0 15.6 0a7.8 7.8 0 1 0 -15.6 0M710.9 1595.3m-7.8 0a7.8 7.8 0 1 0 15.6 0a7.8 7.8 0 1 0 -15.6 0M710.9 1598.7m-7.8 0a7.8 7.8 0 1 0 15.6 0a7.8 7.8 0 1 0 -15.6 0M710.9 1602.7m-7.8 0a7.8 7.8 0 1 0 15.6 0a7.8 7.8 0 1 0 -15.6 0M710.9 1612.1m-7.8 0a7.8 7.8 0 1 0 15.6 0a7.8 7.8 0 1 0 -15.6 0M710.9 1651m-7.8 0a7.8 7.8 0 1 0 15.6 0a7.8 7.8 0 1 0 -15.6 0M710.9 1671.5m-7.8 0a7.8 7.8 0 1 0 15.6 0a7.8 7.8 0 1 0 -15.6 0M735.6 1530.5m-7.8 0a7.8 7.8 0 1 0 15.6 0a7.8 7.8 0 1 0 -15.6 0M735.6 1558.8m-7.8 0a7.8 7.8 0 1 0 15.6 0a7.8 7.8 0 1 0 -15.6 0M735.6 1562.8m-7.8 0a7.8 7.8 0 1 0 15.6 0a7.8 7.8 0 1 0 -15.6 0M756.6 1574.2m-7.8 0a7.8 7.8 0 1 0 15.6 0a7.8 7.8 0 1 0 -15.6 0M756.6 1609.7m-7.8 0a7.8 7.8 0 1 0 15.6 0a7.8 7.8 0 1 0 -15.6 0M756.6 1612.7m-7.8 0a7.8 7.8 0 1 0 15.6 0a7.8 7.8 0 1 0 -15.6 0M774.7 1584.1m-7.8 0a7.8 7.8 0 1 0 15.6 0a7.8 7.8 0 1 0 -15.6 0M774.7 1638.2m-7.8 0a7.8 7.8 0 1 0 15.6 0a7.8 7.8 0 1 0 -15.6 0M791.1 1574.8m-7.8 0a7.8 7.8 0 1 0 15.6 0a7.8 7.8 0 1 0 -15.6 0M791.1 1583.7m-7.8 0a7.8 7.8 0 1 0 15.6 0a7.8 7.8 0 1 0 -15.6 0M805.4 1568.2m-7.8 0a7.8 7.8 0 1 0 15.6 0a7.8 7.8 0 1 0 -15.6 0M840.9 1573.8m-7.8 0a7.8 7.8 0 1 0 15.6 0a7.8 7.8 0 1 0 -15.6 0" stroke="#111" stroke-width="1.65" fill="none"/>
<line x1="585.3" y1="1633.2" x2="842.5" y2="1562.8" stroke="#111" stroke-width="4.9" stroke-linecap="round"/>
<text x="561.5" y="1742" font-size="24" font-style="italic">r</text>
<text x="570" y="1730.1" font-size="14">2</text>
<g transform="translate(590.9 1735.8) scale(0.93 0.7) translate(-7 7.9)"><text x="0" y="0" font-size="24" style="stroke:#111;stroke-width:0.8">=</text></g>
<text x="602.6" y="1742" font-size="24">0.19</text>
<text x="738.7" y="1739.5" font-size="24" font-style="italic">y</text>
<g transform="translate(764.8 1733.3) scale(0.93 0.7) translate(-7 7.9)"><text x="0" y="0" font-size="24" style="stroke:#111;stroke-width:0.8">=</text></g>
<text x="776.9" y="1739.5" font-size="24">0.42</text>
<text x="825.3" y="1739.5" font-size="24" font-style="italic">x</text>
<text x="839.8" y="1727.3" font-size="14">0.99</text>
</g>
<g transform="translate(698.7 1841.6)"><text x="-1.8" y="0" font-size="38.6">Species richness</text><text x="302.8" y="0" font-size="38.6">(</text><text x="317.4" y="0" font-size="38.6" font-style="italic">S</text><text x="346.8" y="6.6" font-size="28.5" font-style="italic">i</text><text x="358.5" y="1.2" font-size="48" style="font-family:'DejaVu Sans';font-weight:200">/</text><text x="373.3" y="0" font-size="38.6">max</text><text x="455.8" y="0" font-size="38.6" font-style="italic">S</text><text x="483.3" y="0" font-size="38.6">,</text><text x="513.8" y="0" font-size="38.6">Log</text><text x="579" y="6.6" font-size="28.5">10</text><text x="612.5" y="0" font-size="38.6">–transformed)</text></g>
<g transform="translate(34 1243.5) rotate(-90)"><text x="-3.2" y="0" font-size="38.6">Function</text><text x="155.4" y="0" font-size="38.6">(</text><text x="170.9" y="0" font-size="38.6" font-style="italic">F</text><text x="198" y="6.6" font-size="28.5" font-style="italic">i</text><text x="209.8" y="1.2" font-size="48" style="font-family:'DejaVu Sans';font-weight:200">/</text><text x="225.7" y="0" font-size="38.6">max</text><text x="306.8" y="0" font-size="38.6" font-style="italic">F</text><text x="332" y="0" font-size="38.6">,</text><text x="362" y="0" font-size="38.6">Log</text><text x="427.2" y="6.6" font-size="28.5">10</text><text x="460.7" y="0" font-size="38.6">–transformed)</text></g>
</svg></body></html>
